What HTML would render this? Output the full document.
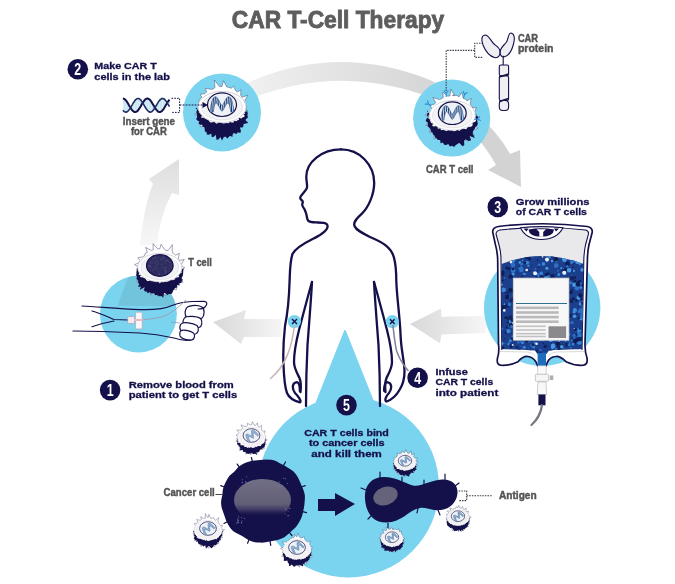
<!DOCTYPE html>
<html><head><meta charset="utf-8"><style>
html,body{margin:0;padding:0;background:#fff;}
svg{display:block;font-family:"Liberation Sans",sans-serif;}
</style></head><body>
<svg width="675" height="584" viewBox="0 0 675 584">
<rect width="675" height="584" fill="#fff"/>
<defs>
<linearGradient id="gTop" gradientUnits="userSpaceOnUse" x1="250" y1="0" x2="450" y2="0"><stop offset="0" stop-color="#f0f0f0"/><stop offset="1" stop-color="#d3d3d3"/></linearGradient>
<linearGradient id="gLeftUp" x1="0" y1="1" x2="0" y2="0"><stop offset="0" stop-color="#f7f7f7"/><stop offset="1" stop-color="#dedede"/></linearGradient>
<linearGradient id="gArrL" x1="0" y1="0" x2="1" y2="0"><stop offset="0" stop-color="#d8d8d8"/><stop offset="1" stop-color="#f6f6f6"/></linearGradient>
<radialGradient id="gNuc" cx="0.5" cy="0.4" r="0.6"><stop offset="0" stop-color="#77748a"/><stop offset="0.7" stop-color="#5e5b78"/><stop offset="1" stop-color="#3a3762"/></radialGradient>
</defs>
<path d="M238,87 L254,80 Q340,44 430,80 C455,92 495,125 510,154 L520,150 L521,187 L488,170 L496,165 C480,135 452,110 424,95 Q340,65.5 255,97 L240,104 Z" fill="url(#gTop)"/>
<path d="M140,245 Q144,205 153,184 L149,179 L179,159 L179,195 L172,193 Q160,215 157,245 Z" fill="url(#gLeftUp)"/>
<path d="M213,322 L246,310 L244,319 L282,319 L282,337 L244,337 L241,344 Z" fill="url(#gArrL)"/>
<path d="M410,324 L441,308.5 L441.5,316.7 L486,316 L486,333 L441.5,334.4 L440,343.3 Z" fill="url(#gArrL)"/>
<circle cx="222" cy="112.5" r="39" fill="#7bd4ef"/>
<circle cx="451.7" cy="118" r="38.6" fill="#7bd4ef"/>
<circle cx="138.4" cy="314" r="38.5" fill="#7bd4ef"/>
<clipPath id="handclip"><circle cx="138.4" cy="314" r="38.5"/></clipPath><path clip-path="url(#handclip)" d="M140,244 L175,244 L180,306 L118,306 C122,290 134,265 140,244 Z" fill="#ececec" style="mix-blend-mode:multiply"/>
<circle cx="542.2" cy="307.8" r="58.2" fill="#7bd4ef"/>
<path d="M345,331 L316,404 L374,404 Z" fill="#7bd4ef" stroke="#7bd4ef" stroke-width="2" stroke-linejoin="round"/>
<circle cx="348.5" cy="487" r="90.5" fill="#7bd4ef"/>
<path d="M498.6,226.5 Q542.9,221 587.2,226.5 Q592.5,227.5 592.3,232 L588.9,245 Q587.5,252 587.4,260 L585,344 Q584.8,352 587,358 Q588,364.5 583.5,365.2 Q575,366 566,361.7 Q560,356 555.7,356.5 Q550,357 547.5,362 L545.8,366.1 L537.8,366.1 L536,362 Q533,357 527.6,356.5 Q523,356 518,361.7 Q509,366 500.5,365.2 Q496.3,364.5 497.5,358 Q499.5,352 498.5,344 L497.7,260 Q497.5,252 495.2,243.6 L492.7,232 Q492.5,227.5 498.6,226.5 Z" fill="#fff" stroke="#14104a" stroke-width="1.7" stroke-linejoin="round"/>
<path d="M500,230 Q542.9,225 585.5,230 Q589,231 588.5,234 L585.5,245 Q584,252 583.8,260 L582,350 L501.8,350 L501,260 Q501,252 499,245 L496,234 Q496,231 500,230 Z" fill="#e9e9ec"/>
<path d="M501.8,350 L501,260 Q501,252 499,245 L496,234 Q496,231 500,230 Q542.9,225 585.5,230 Q589,231 588.5,234 L585.5,245 Q584,252 583.8,260 L582,350" fill="none" stroke="#14104a" stroke-width="1.1"/>
<path d="M501.5,264 Q541,248 583.5,264 L582,349 Q560,349.5 549,350.5 L546.5,354 L537.3,354 L535,350.5 Q524,349.5 501.8,349 Z" fill="#1b3f8c"/>
<path d="M500,351.5 L528,352 Q533,352.5 535.5,356 M548.5,356 Q551,352.5 556,352 L584,351.5" fill="none" stroke="#c9c9ce" stroke-width="0.7"/>
<clipPath id="liqclip"><path d="M501.5,264 Q541,248 583.5,264 L582,349 Q560,349.5 549,350.5 L546.5,354 L537.3,354 L535,350.5 Q524,349.5 501.8,349 Z"/></clipPath>
<g clip-path="url(#liqclip)"><circle cx="554.4" cy="254.6" r="1.2" fill="#3a86d6"/><circle cx="519" cy="328.6" r="2.3" fill="#0d1c52"/><circle cx="575.8" cy="261" r="1.5" fill="#2e6fc4"/><circle cx="502.5" cy="274.7" r="1.8" fill="#13245e"/><circle cx="502.3" cy="272.7" r="2.3" fill="#0d1c52"/><circle cx="546.3" cy="274.9" r="1.8" fill="#0f1f5a"/><circle cx="568.8" cy="252.7" r="0.9" fill="#0d1c52"/><circle cx="535.9" cy="280.9" r="0.9" fill="#2a74cc"/><circle cx="528.6" cy="261.6" r="0.6" fill="#0f1f5a"/><circle cx="572" cy="314.8" r="0.6" fill="#0d1c52"/><circle cx="539.1" cy="265" r="1.5" fill="#2e6fc4"/><circle cx="546.9" cy="338.3" r="1.8" fill="#2a74cc"/><circle cx="530.7" cy="272" r="0.6" fill="#2e6fc4"/><circle cx="556.2" cy="332.4" r="0.6" fill="#2a74cc"/><circle cx="519.8" cy="262.5" r="1.2" fill="#4b9be0"/><circle cx="554" cy="289.9" r="1.2" fill="#0f1f5a"/><circle cx="517.8" cy="279.8" r="2.3" fill="#0d1c52"/><circle cx="506.1" cy="318" r="1.8" fill="#0d1c52"/><circle cx="520.8" cy="300.1" r="1.2" fill="#0d1c52"/><circle cx="558.5" cy="274.8" r="1.2" fill="#2a74cc"/><circle cx="565.3" cy="257.8" r="0.6" fill="#2a74cc"/><circle cx="526.8" cy="279.8" r="0.9" fill="#13245e"/><circle cx="574.5" cy="284.7" r="2.3" fill="#4b9be0"/><circle cx="533.6" cy="347.1" r="1.5" fill="#3a86d6"/><circle cx="522.5" cy="277.6" r="1.8" fill="#13245e"/><circle cx="522.3" cy="312.8" r="1.8" fill="#4b9be0"/><circle cx="530.8" cy="355.7" r="0.9" fill="#13245e"/><circle cx="541.9" cy="330.6" r="0.6" fill="#3a86d6"/><circle cx="553.3" cy="334.4" r="1.5" fill="#13245e"/><circle cx="505.4" cy="291.7" r="1.5" fill="#13245e"/><circle cx="521.4" cy="309.5" r="0.6" fill="#0d1c52"/><circle cx="561.3" cy="322.9" r="1.8" fill="#2a74cc"/><circle cx="522.7" cy="318.7" r="0.6" fill="#0f1f5a"/><circle cx="537" cy="299.2" r="2.3" fill="#0d1c52"/><circle cx="522.4" cy="304.1" r="0.9" fill="#13245e"/><circle cx="577.6" cy="342.5" r="1.2" fill="#2a74cc"/><circle cx="554.3" cy="315.3" r="0.9" fill="#0f1f5a"/><circle cx="564.8" cy="308.1" r="1.8" fill="#2e6fc4"/><circle cx="550.9" cy="302.8" r="0.6" fill="#0f1f5a"/><circle cx="574.7" cy="338.5" r="1.2" fill="#3a86d6"/><circle cx="504.9" cy="343.3" r="0.6" fill="#2e6fc4"/><circle cx="562.2" cy="336.9" r="1.8" fill="#2a74cc"/><circle cx="510.7" cy="320.6" r="1.8" fill="#3a86d6"/><circle cx="522.5" cy="342.7" r="1.5" fill="#3a86d6"/><circle cx="579" cy="330.5" r="2.3" fill="#3a86d6"/><circle cx="560.6" cy="293.5" r="2.3" fill="#0d1c52"/><circle cx="531.7" cy="345.6" r="1.5" fill="#2e6fc4"/><circle cx="521.1" cy="258.7" r="0.6" fill="#13245e"/><circle cx="547.1" cy="313.2" r="0.6" fill="#2e6fc4"/><circle cx="560.2" cy="258.1" r="0.6" fill="#2e6fc4"/><circle cx="573.1" cy="259.4" r="0.9" fill="#0f1f5a"/><circle cx="556.9" cy="274.3" r="0.9" fill="#0d1c52"/><circle cx="579.5" cy="311.4" r="1.5" fill="#3a86d6"/><circle cx="566.7" cy="336" r="0.9" fill="#2e6fc4"/><circle cx="508.2" cy="296.8" r="1.5" fill="#4b9be0"/><circle cx="539.7" cy="327.8" r="2.3" fill="#0d1c52"/><circle cx="583.7" cy="262.2" r="1.5" fill="#0d1c52"/><circle cx="528.8" cy="341.6" r="0.9" fill="#3a86d6"/><circle cx="516.2" cy="298.7" r="1.5" fill="#3a86d6"/><circle cx="523.7" cy="278" r="0.6" fill="#4b9be0"/><circle cx="568.7" cy="341" r="0.6" fill="#2e6fc4"/><circle cx="555.4" cy="308.2" r="0.6" fill="#2e6fc4"/><circle cx="578.7" cy="340.3" r="0.9" fill="#4b9be0"/><circle cx="541.3" cy="274.2" r="1.5" fill="#2e6fc4"/><circle cx="514" cy="252.2" r="1.5" fill="#0f1f5a"/><circle cx="578.8" cy="333.7" r="1.2" fill="#4b9be0"/><circle cx="559.2" cy="328" r="1.8" fill="#0d1c52"/><circle cx="561.1" cy="268.1" r="1.2" fill="#3a86d6"/><circle cx="582.3" cy="312.2" r="1.8" fill="#2e6fc4"/><circle cx="563.6" cy="257.9" r="1.8" fill="#4b9be0"/><circle cx="542.7" cy="340.7" r="0.9" fill="#2e6fc4"/><circle cx="581.7" cy="260.3" r="0.9" fill="#2e6fc4"/><circle cx="550.6" cy="322.2" r="0.9" fill="#4b9be0"/><circle cx="510.2" cy="344.6" r="0.9" fill="#13245e"/><circle cx="550.5" cy="316.4" r="1.5" fill="#0d1c52"/><circle cx="549.6" cy="306.4" r="1.2" fill="#3a86d6"/><circle cx="556.9" cy="284.7" r="1.2" fill="#4b9be0"/><circle cx="511.1" cy="319.1" r="1.5" fill="#0f1f5a"/><circle cx="579" cy="349.3" r="0.6" fill="#4b9be0"/><circle cx="552.8" cy="310.6" r="0.6" fill="#2e6fc4"/><circle cx="545.7" cy="304.6" r="0.9" fill="#0f1f5a"/><circle cx="574.9" cy="343.4" r="1.2" fill="#0f1f5a"/><circle cx="513.4" cy="338.7" r="2.3" fill="#0f1f5a"/><circle cx="552" cy="354.7" r="2.3" fill="#13245e"/><circle cx="500.7" cy="337" r="1.2" fill="#0d1c52"/><circle cx="508.8" cy="343.3" r="1.2" fill="#2e6fc4"/><circle cx="575.6" cy="329.2" r="0.9" fill="#0f1f5a"/><circle cx="523.9" cy="273.9" r="1.2" fill="#3a86d6"/><circle cx="558.4" cy="340.7" r="1.8" fill="#4b9be0"/><circle cx="521.3" cy="346.4" r="0.6" fill="#2e6fc4"/><circle cx="553.9" cy="338.3" r="0.6" fill="#2e6fc4"/><circle cx="528.4" cy="265.6" r="1.2" fill="#3a86d6"/><circle cx="563" cy="309.4" r="1.5" fill="#13245e"/><circle cx="500.8" cy="259.8" r="2.3" fill="#3a86d6"/><circle cx="546.4" cy="338.8" r="1.8" fill="#13245e"/><circle cx="512.6" cy="265.3" r="1.2" fill="#0f1f5a"/><circle cx="576.4" cy="334.8" r="0.6" fill="#0f1f5a"/><circle cx="517.9" cy="278" r="0.6" fill="#0f1f5a"/><circle cx="566.3" cy="344" r="1.5" fill="#13245e"/><circle cx="563.7" cy="348.3" r="0.9" fill="#2a74cc"/><circle cx="513.8" cy="335.2" r="0.9" fill="#4b9be0"/><circle cx="502.1" cy="328.6" r="1.2" fill="#2a74cc"/><circle cx="579.1" cy="335.4" r="2.3" fill="#2a74cc"/><circle cx="521.1" cy="268.6" r="2.3" fill="#2e6fc4"/><circle cx="532.5" cy="256" r="1.5" fill="#3a86d6"/><circle cx="517" cy="347.5" r="1.2" fill="#0f1f5a"/><circle cx="569.7" cy="342.6" r="0.9" fill="#2e6fc4"/><circle cx="556.1" cy="293.4" r="1.2" fill="#2a74cc"/><circle cx="505.9" cy="332.4" r="1.2" fill="#0d1c52"/><circle cx="543.3" cy="322.7" r="1.8" fill="#0f1f5a"/><circle cx="579.8" cy="264" r="1.2" fill="#3a86d6"/><circle cx="549.4" cy="354.3" r="0.6" fill="#2e6fc4"/><circle cx="550.7" cy="288" r="1.2" fill="#4b9be0"/><circle cx="551.5" cy="305.2" r="1.5" fill="#13245e"/><circle cx="516.2" cy="256.6" r="1.5" fill="#2e6fc4"/><circle cx="544.2" cy="335.9" r="2.3" fill="#0d1c52"/><circle cx="579.9" cy="328.7" r="0.9" fill="#0f1f5a"/><circle cx="536.7" cy="350.7" r="1.2" fill="#13245e"/><circle cx="526.7" cy="340.2" r="2.3" fill="#0f1f5a"/><circle cx="543.1" cy="321.4" r="1.2" fill="#4b9be0"/><circle cx="559.3" cy="309.7" r="0.9" fill="#4b9be0"/><circle cx="556.5" cy="291.4" r="2.3" fill="#3a86d6"/><circle cx="552.3" cy="283.3" r="1.8" fill="#2a74cc"/><circle cx="500" cy="281.8" r="1.5" fill="#2a74cc"/><circle cx="549.3" cy="320.1" r="1.5" fill="#4b9be0"/><circle cx="537.6" cy="274.2" r="1.5" fill="#2a74cc"/><circle cx="576.6" cy="334.8" r="0.9" fill="#0d1c52"/><circle cx="507.2" cy="305.6" r="2.3" fill="#13245e"/><circle cx="528.5" cy="337.1" r="0.9" fill="#0d1c52"/><circle cx="526.4" cy="335.9" r="0.9" fill="#2e6fc4"/><circle cx="503.9" cy="354.3" r="1.8" fill="#2a74cc"/><circle cx="565.3" cy="299.4" r="2.3" fill="#13245e"/><circle cx="516.5" cy="324.4" r="1.5" fill="#4b9be0"/><circle cx="520.7" cy="320.2" r="0.6" fill="#2a74cc"/><circle cx="573.1" cy="344.1" r="1.5" fill="#3a86d6"/><circle cx="515" cy="351.6" r="1.8" fill="#4b9be0"/><circle cx="504.3" cy="277.9" r="0.6" fill="#4b9be0"/><circle cx="511.3" cy="300.3" r="1.8" fill="#13245e"/><circle cx="550.6" cy="350.8" r="1.5" fill="#13245e"/><circle cx="569.3" cy="344.8" r="1.5" fill="#2a74cc"/><circle cx="577.1" cy="298.4" r="0.9" fill="#0d1c52"/><circle cx="573.2" cy="298.8" r="0.9" fill="#2a74cc"/><circle cx="554.2" cy="331.6" r="1.8" fill="#4b9be0"/><circle cx="553.3" cy="280.6" r="0.6" fill="#0d1c52"/><circle cx="524.3" cy="280.3" r="1.2" fill="#13245e"/><circle cx="506.8" cy="267.7" r="1.5" fill="#0d1c52"/><circle cx="513" cy="274.3" r="1.5" fill="#4b9be0"/><circle cx="528.1" cy="300.5" r="0.6" fill="#3a86d6"/><circle cx="570.8" cy="292.5" r="1.8" fill="#0d1c52"/><circle cx="501.7" cy="343.6" r="1.8" fill="#4b9be0"/><circle cx="540.5" cy="350" r="1.2" fill="#2a74cc"/><circle cx="533.1" cy="344.7" r="1.5" fill="#13245e"/><circle cx="563.5" cy="308.8" r="1.8" fill="#3a86d6"/><circle cx="541.5" cy="280.4" r="1.5" fill="#2e6fc4"/><circle cx="533.1" cy="321.6" r="1.5" fill="#0d1c52"/><circle cx="514" cy="300.6" r="0.9" fill="#13245e"/><circle cx="545.4" cy="346.3" r="1.8" fill="#13245e"/><circle cx="556.4" cy="260.7" r="1.5" fill="#3a86d6"/><circle cx="573.7" cy="270.9" r="1.2" fill="#4b9be0"/><circle cx="527.8" cy="299.3" r="1.2" fill="#2a74cc"/><circle cx="574.8" cy="280.9" r="1.5" fill="#0f1f5a"/><circle cx="571" cy="300.9" r="2.3" fill="#13245e"/><circle cx="504.4" cy="351" r="0.9" fill="#0d1c52"/><circle cx="505.8" cy="351.6" r="0.6" fill="#2a74cc"/><circle cx="502.6" cy="277.7" r="0.6" fill="#13245e"/><circle cx="513" cy="265.1" r="2.3" fill="#2e6fc4"/><circle cx="547.9" cy="274.7" r="2.3" fill="#0f1f5a"/><circle cx="565.2" cy="269.5" r="1.8" fill="#0d1c52"/><circle cx="561.1" cy="332.9" r="0.9" fill="#0f1f5a"/><circle cx="509.2" cy="254.7" r="1.2" fill="#13245e"/><circle cx="557.6" cy="351.6" r="1.5" fill="#0d1c52"/><circle cx="516.9" cy="313.6" r="2.3" fill="#3a86d6"/><circle cx="508.7" cy="332.3" r="2.3" fill="#13245e"/><circle cx="568.5" cy="334.8" r="1.8" fill="#2a74cc"/><circle cx="503.5" cy="307.4" r="2.3" fill="#0f1f5a"/><circle cx="505.9" cy="319.3" r="0.6" fill="#2a74cc"/><circle cx="535.7" cy="303" r="1.5" fill="#0f1f5a"/><circle cx="554" cy="338.2" r="2.3" fill="#3a86d6"/><circle cx="537" cy="328.3" r="2.3" fill="#0f1f5a"/><circle cx="552.4" cy="347.6" r="1.5" fill="#4b9be0"/><circle cx="537" cy="328" r="1.2" fill="#0f1f5a"/><circle cx="572.4" cy="338.4" r="0.6" fill="#0f1f5a"/><circle cx="574.9" cy="277.4" r="1.5" fill="#13245e"/><circle cx="551.9" cy="291.4" r="0.6" fill="#4b9be0"/><circle cx="572.3" cy="270.9" r="0.9" fill="#0f1f5a"/><circle cx="567.8" cy="287.4" r="1.8" fill="#0d1c52"/><circle cx="574.8" cy="309.8" r="1.8" fill="#3a86d6"/><circle cx="507.3" cy="326.9" r="1.5" fill="#13245e"/><circle cx="564.4" cy="323.8" r="2.3" fill="#0d1c52"/><circle cx="541.7" cy="334.5" r="0.6" fill="#0f1f5a"/><circle cx="518.8" cy="323.9" r="1.2" fill="#0d1c52"/><circle cx="549.4" cy="301.2" r="1.8" fill="#0f1f5a"/><circle cx="536.2" cy="329.6" r="1.2" fill="#0f1f5a"/><circle cx="559.7" cy="280.2" r="1.2" fill="#3a86d6"/><circle cx="510.3" cy="272" r="0.6" fill="#0d1c52"/><circle cx="545.5" cy="331.3" r="0.9" fill="#3a86d6"/><circle cx="518.4" cy="302.4" r="2.3" fill="#13245e"/><circle cx="583" cy="306.6" r="1.2" fill="#2e6fc4"/><circle cx="570.8" cy="282.8" r="1.2" fill="#3a86d6"/><circle cx="525.7" cy="325.6" r="0.9" fill="#0f1f5a"/><circle cx="503.9" cy="257.7" r="1.2" fill="#0d1c52"/><circle cx="580.2" cy="318.3" r="1.5" fill="#2e6fc4"/><circle cx="574.2" cy="311.7" r="1.5" fill="#4b9be0"/><circle cx="537.4" cy="271.2" r="0.6" fill="#0f1f5a"/><circle cx="580" cy="301.7" r="0.6" fill="#4b9be0"/><circle cx="541.8" cy="312" r="2.3" fill="#2e6fc4"/><circle cx="512.9" cy="336.4" r="1.2" fill="#2e6fc4"/><circle cx="584.5" cy="264.3" r="1.5" fill="#13245e"/><circle cx="550.7" cy="316.3" r="1.8" fill="#4b9be0"/><circle cx="538.3" cy="298" r="1.8" fill="#4b9be0"/><circle cx="526" cy="316.6" r="1.8" fill="#0d1c52"/><circle cx="508.4" cy="331.3" r="2.3" fill="#3a86d6"/><circle cx="522.5" cy="260.4" r="0.9" fill="#3a86d6"/><circle cx="546.9" cy="268.3" r="1.5" fill="#4b9be0"/><circle cx="558.6" cy="300.9" r="0.6" fill="#3a86d6"/><circle cx="524.5" cy="281.4" r="1.5" fill="#2e6fc4"/><circle cx="558.4" cy="348.1" r="2.3" fill="#13245e"/><circle cx="556.2" cy="349.1" r="1.5" fill="#2e6fc4"/><circle cx="546.3" cy="319.4" r="1.2" fill="#2a74cc"/><circle cx="512.1" cy="258.2" r="1.2" fill="#13245e"/><circle cx="563.7" cy="311.2" r="1.2" fill="#4b9be0"/><circle cx="510.6" cy="323.6" r="2.3" fill="#4b9be0"/><circle cx="580.1" cy="304" r="1.5" fill="#4b9be0"/><circle cx="506.8" cy="256.1" r="1.5" fill="#0d1c52"/><circle cx="527.4" cy="278" r="0.6" fill="#3a86d6"/><circle cx="581.8" cy="338.9" r="1.8" fill="#13245e"/><circle cx="580.8" cy="356" r="2.3" fill="#2a74cc"/><circle cx="522.9" cy="256.2" r="0.9" fill="#4b9be0"/><circle cx="544.1" cy="298" r="1.2" fill="#3a86d6"/><circle cx="584.7" cy="297.3" r="1.5" fill="#2e6fc4"/><circle cx="540" cy="294.5" r="1.2" fill="#0d1c52"/><circle cx="508.9" cy="268.7" r="1.5" fill="#0d1c52"/><circle cx="542.1" cy="320.9" r="1.5" fill="#2a74cc"/><circle cx="564.6" cy="255.8" r="0.6" fill="#0f1f5a"/><circle cx="521.5" cy="264.1" r="1.5" fill="#2a74cc"/><circle cx="543.7" cy="354.8" r="2.3" fill="#2a74cc"/><circle cx="546.1" cy="295" r="0.9" fill="#13245e"/><circle cx="530.8" cy="330.7" r="2.3" fill="#4b9be0"/><circle cx="564.6" cy="273.2" r="1.8" fill="#3a86d6"/><circle cx="578.9" cy="297.6" r="2.3" fill="#4b9be0"/><circle cx="510.3" cy="353.2" r="1.8" fill="#2a74cc"/><circle cx="520.3" cy="268.5" r="1.8" fill="#2e6fc4"/><circle cx="546.9" cy="261.7" r="0.6" fill="#4b9be0"/><circle cx="580.5" cy="319.4" r="0.9" fill="#4b9be0"/><circle cx="579.3" cy="282.4" r="2.3" fill="#0f1f5a"/><circle cx="535.3" cy="302.2" r="1.5" fill="#3a86d6"/><circle cx="538.8" cy="267" r="0.9" fill="#13245e"/><circle cx="543.2" cy="343.4" r="0.6" fill="#0f1f5a"/><circle cx="565.7" cy="340.9" r="1.2" fill="#2a74cc"/><circle cx="543.2" cy="337.3" r="1.2" fill="#0d1c52"/><circle cx="525.4" cy="313" r="2.3" fill="#4b9be0"/><circle cx="573.5" cy="298.4" r="1.5" fill="#0f1f5a"/><circle cx="528.3" cy="331.3" r="1.5" fill="#4b9be0"/><circle cx="579.3" cy="342.4" r="2.3" fill="#3a86d6"/><circle cx="548.6" cy="276.3" r="1.5" fill="#2e6fc4"/><circle cx="527" cy="301.2" r="1.5" fill="#4b9be0"/><circle cx="584" cy="334.4" r="2.3" fill="#3a86d6"/><circle cx="542.1" cy="255.9" r="1.8" fill="#13245e"/><circle cx="528.2" cy="262.4" r="1.5" fill="#2e6fc4"/><circle cx="544.7" cy="299.5" r="2.3" fill="#3a86d6"/><circle cx="534.8" cy="320.1" r="0.9" fill="#2e6fc4"/><circle cx="539.9" cy="352.8" r="1.2" fill="#13245e"/><circle cx="558.9" cy="319.6" r="1.2" fill="#2a74cc"/><circle cx="557.3" cy="307.5" r="1.2" fill="#0d1c52"/><circle cx="561.1" cy="331" r="1.8" fill="#2e6fc4"/><circle cx="552.5" cy="276.4" r="2.3" fill="#0f1f5a"/><circle cx="584.8" cy="329.7" r="1.5" fill="#2e6fc4"/><circle cx="564.6" cy="325.2" r="0.6" fill="#4b9be0"/><circle cx="514.1" cy="283.1" r="0.6" fill="#2e6fc4"/><circle cx="527.6" cy="257.8" r="1.2" fill="#0f1f5a"/><circle cx="536.6" cy="277.4" r="1.5" fill="#13245e"/><circle cx="558" cy="270.7" r="0.9" fill="#2e6fc4"/><circle cx="551.8" cy="291.8" r="2.3" fill="#3a86d6"/><circle cx="542.3" cy="312.6" r="0.9" fill="#4b9be0"/><circle cx="554.2" cy="299.8" r="2.3" fill="#2e6fc4"/><circle cx="576.4" cy="300.4" r="1.2" fill="#0d1c52"/><circle cx="546.5" cy="259.7" r="1.2" fill="#13245e"/><circle cx="525.4" cy="352.1" r="2.3" fill="#0f1f5a"/><circle cx="538.8" cy="283.4" r="1.5" fill="#2a74cc"/><circle cx="541.1" cy="276.7" r="1.8" fill="#0f1f5a"/><circle cx="548.9" cy="355.2" r="1.2" fill="#2e6fc4"/><circle cx="583.1" cy="320.5" r="1.2" fill="#2e6fc4"/><circle cx="548.1" cy="323.3" r="2.3" fill="#2e6fc4"/><circle cx="577.4" cy="329.5" r="1.2" fill="#2a74cc"/><circle cx="567.9" cy="315.1" r="1.2" fill="#3a86d6"/><circle cx="554.1" cy="316.6" r="2.3" fill="#2a74cc"/><circle cx="561.3" cy="320.6" r="0.9" fill="#0d1c52"/><circle cx="508.3" cy="317.3" r="0.6" fill="#0f1f5a"/><circle cx="567" cy="255.5" r="1.2" fill="#0d1c52"/><circle cx="511.2" cy="346.6" r="1.2" fill="#0d1c52"/><circle cx="535.3" cy="272.9" r="1.8" fill="#0f1f5a"/><circle cx="545.1" cy="347" r="0.9" fill="#0f1f5a"/><circle cx="577.7" cy="350.2" r="1.2" fill="#0d1c52"/><circle cx="574" cy="335.6" r="1.5" fill="#2e6fc4"/><circle cx="512" cy="352.5" r="2.3" fill="#0d1c52"/><circle cx="557.3" cy="293.3" r="1.8" fill="#0f1f5a"/><circle cx="507.7" cy="293" r="1.2" fill="#13245e"/><circle cx="510.5" cy="290.3" r="2.3" fill="#0d1c52"/><circle cx="522.3" cy="291.6" r="2.3" fill="#0f1f5a"/><circle cx="509.2" cy="276.3" r="0.6" fill="#13245e"/><circle cx="575.2" cy="310.4" r="1.8" fill="#3a86d6"/><circle cx="555.1" cy="318.1" r="1.5" fill="#0d1c52"/><circle cx="525.7" cy="294.5" r="0.9" fill="#2e6fc4"/><circle cx="580.4" cy="283.7" r="1.5" fill="#2e6fc4"/><circle cx="508.3" cy="344.3" r="0.9" fill="#4b9be0"/><circle cx="538.6" cy="321.7" r="2.3" fill="#0d1c52"/><circle cx="580.4" cy="295.6" r="2.3" fill="#0d1c52"/><circle cx="513.1" cy="295.1" r="0.6" fill="#2a74cc"/><circle cx="541.6" cy="294.4" r="1.2" fill="#2e6fc4"/><circle cx="558.7" cy="274.6" r="1.5" fill="#3a86d6"/><circle cx="572.7" cy="262.3" r="2.3" fill="#0f1f5a"/><circle cx="546.3" cy="353.7" r="1.2" fill="#2e6fc4"/><circle cx="533.8" cy="271.7" r="0.6" fill="#2a74cc"/><circle cx="570.1" cy="261.5" r="0.9" fill="#0d1c52"/><circle cx="554.4" cy="353" r="0.6" fill="#2a74cc"/><circle cx="528.3" cy="354.8" r="1.8" fill="#3a86d6"/><circle cx="505.8" cy="331.6" r="0.9" fill="#13245e"/><circle cx="518.4" cy="342.4" r="1.2" fill="#2a74cc"/><circle cx="512.5" cy="345.7" r="0.6" fill="#0f1f5a"/><circle cx="573" cy="267" r="0.9" fill="#13245e"/><circle cx="521.3" cy="270.1" r="2.3" fill="#2a74cc"/><circle cx="502.2" cy="253.5" r="0.9" fill="#13245e"/><circle cx="527.5" cy="270.1" r="0.6" fill="#3a86d6"/><circle cx="563" cy="306.7" r="2.3" fill="#2e6fc4"/><circle cx="540.5" cy="332.9" r="1.8" fill="#13245e"/><circle cx="509.3" cy="304.4" r="1.8" fill="#2e6fc4"/><circle cx="561.8" cy="346.5" r="2.3" fill="#13245e"/><circle cx="525.6" cy="318.9" r="0.6" fill="#2e6fc4"/><circle cx="584.9" cy="340.1" r="1.5" fill="#0d1c52"/><circle cx="509.2" cy="326.1" r="1.5" fill="#2e6fc4"/><circle cx="576.4" cy="285.5" r="0.9" fill="#2e6fc4"/><circle cx="510.7" cy="316.9" r="1.8" fill="#13245e"/><circle cx="560.5" cy="291.6" r="1.8" fill="#13245e"/><circle cx="525.1" cy="304.6" r="1.5" fill="#2e6fc4"/><circle cx="567.4" cy="263.9" r="2.3" fill="#0d1c52"/><circle cx="574.6" cy="309.3" r="0.9" fill="#4b9be0"/><circle cx="538.4" cy="275.8" r="1.2" fill="#2a74cc"/><circle cx="538.5" cy="295.3" r="0.6" fill="#0f1f5a"/><circle cx="536.3" cy="321.2" r="1.2" fill="#3a86d6"/><circle cx="558.4" cy="301.3" r="0.6" fill="#2a74cc"/><circle cx="507.3" cy="296.9" r="2.3" fill="#0d1c52"/><circle cx="531.7" cy="265.5" r="0.6" fill="#13245e"/><circle cx="581.3" cy="310.4" r="2.3" fill="#2e6fc4"/><circle cx="534.9" cy="342.9" r="1.5" fill="#2a74cc"/><circle cx="577.8" cy="257.4" r="1.2" fill="#13245e"/><circle cx="526.6" cy="262.8" r="1.8" fill="#3a86d6"/><circle cx="513.2" cy="302.1" r="0.6" fill="#0f1f5a"/><circle cx="571.9" cy="290.2" r="1.2" fill="#13245e"/><circle cx="519.2" cy="296.6" r="1.8" fill="#2a74cc"/><circle cx="569.6" cy="315.8" r="2.3" fill="#13245e"/><circle cx="502.2" cy="348.6" r="2.3" fill="#0f1f5a"/><circle cx="502.5" cy="280.4" r="1.2" fill="#0f1f5a"/><circle cx="529.8" cy="270.9" r="0.9" fill="#13245e"/><circle cx="555.9" cy="259.2" r="2.3" fill="#0d1c52"/><circle cx="582.6" cy="261.5" r="1.8" fill="#3a86d6"/><circle cx="532" cy="299.2" r="0.9" fill="#0f1f5a"/><circle cx="526.5" cy="285.7" r="1.8" fill="#13245e"/><circle cx="507.2" cy="257.5" r="0.9" fill="#2a74cc"/><circle cx="552.5" cy="322.1" r="1.2" fill="#4b9be0"/><circle cx="556.3" cy="302.5" r="1.5" fill="#4b9be0"/><circle cx="523.2" cy="330.5" r="0.6" fill="#0f1f5a"/><circle cx="536.5" cy="281.5" r="2.3" fill="#13245e"/><circle cx="541.4" cy="321.4" r="0.6" fill="#3a86d6"/><circle cx="533.6" cy="314.3" r="0.6" fill="#3a86d6"/><circle cx="525.6" cy="274" r="0.9" fill="#2a74cc"/><circle cx="521.7" cy="286.1" r="0.6" fill="#4b9be0"/><circle cx="563.5" cy="270.3" r="1.5" fill="#13245e"/><circle cx="559.8" cy="304" r="2.3" fill="#2a74cc"/><circle cx="530.1" cy="293.3" r="2.3" fill="#2e6fc4"/><circle cx="537.1" cy="299.8" r="0.6" fill="#2a74cc"/><circle cx="526.6" cy="296.6" r="1.5" fill="#0d1c52"/><circle cx="554.4" cy="282.1" r="1.5" fill="#2e6fc4"/><circle cx="582.1" cy="269.9" r="1.8" fill="#4b9be0"/><circle cx="570.7" cy="347.7" r="0.6" fill="#4b9be0"/><circle cx="571.8" cy="277.3" r="1.8" fill="#4b9be0"/><circle cx="544.5" cy="293.2" r="1.2" fill="#0d1c52"/><circle cx="528.9" cy="286.6" r="0.9" fill="#2e6fc4"/><circle cx="543.4" cy="263.9" r="1.8" fill="#3a86d6"/><circle cx="577" cy="288.3" r="2.3" fill="#2a74cc"/><circle cx="554.9" cy="267.4" r="0.6" fill="#3a86d6"/><circle cx="521.8" cy="270" r="0.9" fill="#2a74cc"/><circle cx="564.5" cy="259.8" r="2.3" fill="#4b9be0"/><circle cx="539.4" cy="310.6" r="1.8" fill="#4b9be0"/><circle cx="557.9" cy="343.7" r="2.3" fill="#0d1c52"/><circle cx="583.9" cy="285.6" r="2.3" fill="#0f1f5a"/><circle cx="512.8" cy="259.1" r="1.5" fill="#0d1c52"/><circle cx="525.7" cy="280.6" r="0.6" fill="#0f1f5a"/><circle cx="543.1" cy="284.3" r="1.5" fill="#2e6fc4"/><circle cx="504.8" cy="338.5" r="0.6" fill="#0d1c52"/><circle cx="573.5" cy="341" r="1.8" fill="#13245e"/><circle cx="543.1" cy="300.1" r="1.8" fill="#2a74cc"/><circle cx="562.8" cy="256.3" r="1.8" fill="#0d1c52"/><circle cx="516" cy="314.9" r="1.8" fill="#3a86d6"/><circle cx="581.4" cy="298.9" r="1.2" fill="#0d1c52"/><circle cx="507.2" cy="319.2" r="0.6" fill="#3a86d6"/><circle cx="560.1" cy="355.1" r="1.8" fill="#13245e"/><circle cx="551.8" cy="289.8" r="1.2" fill="#4b9be0"/><circle cx="534.7" cy="287.2" r="1.8" fill="#2e6fc4"/><circle cx="567.1" cy="319.3" r="0.6" fill="#0f1f5a"/><circle cx="508" cy="322.6" r="1.2" fill="#0f1f5a"/><circle cx="561.5" cy="320.3" r="1.8" fill="#2a74cc"/><circle cx="512.8" cy="260.5" r="2.3" fill="#3a86d6"/><circle cx="577.9" cy="284.3" r="2.3" fill="#0d1c52"/><circle cx="556.3" cy="265.4" r="2.3" fill="#2e6fc4"/><circle cx="526.3" cy="291.2" r="1.2" fill="#2a74cc"/><circle cx="510.9" cy="325.1" r="2.3" fill="#0d1c52"/><circle cx="577.6" cy="261.7" r="2.3" fill="#4b9be0"/><circle cx="543.2" cy="253.9" r="1.2" fill="#3a86d6"/><circle cx="580.8" cy="287.5" r="1.5" fill="#3a86d6"/><circle cx="519.3" cy="266.3" r="0.6" fill="#0f1f5a"/><circle cx="571.8" cy="262.5" r="1.8" fill="#2a74cc"/><circle cx="562.8" cy="306.8" r="2.3" fill="#0f1f5a"/><circle cx="574.5" cy="316.3" r="1.8" fill="#4b9be0"/><circle cx="513.1" cy="270.8" r="2.3" fill="#2a74cc"/><circle cx="553.1" cy="345.9" r="2.3" fill="#4b9be0"/><circle cx="503.7" cy="289.9" r="2.3" fill="#3a86d6"/><circle cx="582.4" cy="315.5" r="2.3" fill="#2a74cc"/><circle cx="538.2" cy="307.5" r="1.2" fill="#2a74cc"/><circle cx="566.7" cy="346" r="0.9" fill="#0f1f5a"/><circle cx="557.7" cy="311.3" r="1.5" fill="#4b9be0"/><circle cx="565.4" cy="332.9" r="1.8" fill="#13245e"/><circle cx="535.6" cy="268.9" r="0.9" fill="#2a74cc"/><circle cx="551.4" cy="342.8" r="0.6" fill="#0d1c52"/><circle cx="540.9" cy="290.6" r="0.6" fill="#0d1c52"/><circle cx="571.9" cy="340.5" r="1.2" fill="#2e6fc4"/><circle cx="564.9" cy="280.4" r="1.8" fill="#3a86d6"/><circle cx="570.6" cy="261.5" r="0.9" fill="#2a74cc"/><circle cx="538.3" cy="288.4" r="0.6" fill="#4b9be0"/><circle cx="504.5" cy="304.2" r="0.9" fill="#4b9be0"/><circle cx="584.5" cy="291" r="0.6" fill="#0f1f5a"/><circle cx="579.1" cy="339.3" r="2.3" fill="#0f1f5a"/><circle cx="567.3" cy="266.3" r="1.2" fill="#2a74cc"/><circle cx="540.2" cy="338.4" r="2.3" fill="#4b9be0"/><circle cx="538.1" cy="252.5" r="0.6" fill="#2e6fc4"/><circle cx="521.8" cy="338.8" r="1.8" fill="#0d1c52"/><circle cx="551.8" cy="296" r="1.2" fill="#3a86d6"/><circle cx="525.6" cy="257" r="1.5" fill="#0d1c52"/><circle cx="567.5" cy="299.5" r="0.6" fill="#2a74cc"/><circle cx="576.9" cy="314.1" r="0.6" fill="#0d1c52"/><circle cx="543.8" cy="277.2" r="0.9" fill="#0f1f5a"/><circle cx="536.5" cy="315.9" r="0.9" fill="#13245e"/><circle cx="535.4" cy="321.1" r="0.6" fill="#13245e"/><circle cx="582.8" cy="259" r="1.8" fill="#13245e"/><circle cx="543.1" cy="354.8" r="1.8" fill="#2e6fc4"/><circle cx="533.2" cy="300.9" r="2.3" fill="#4b9be0"/><circle cx="583.4" cy="278.4" r="0.6" fill="#0f1f5a"/><circle cx="567" cy="287.9" r="2.3" fill="#0d1c52"/><circle cx="553.4" cy="332.2" r="2.3" fill="#2a74cc"/><circle cx="528.3" cy="256.6" r="1.8" fill="#0f1f5a"/><circle cx="569.1" cy="270.2" r="2.3" fill="#4b9be0"/><circle cx="583.4" cy="301.8" r="0.9" fill="#2a74cc"/><circle cx="511.5" cy="326.5" r="1.5" fill="#2e6fc4"/><circle cx="524.9" cy="256.6" r="0.9" fill="#2e6fc4"/><circle cx="526.8" cy="284.2" r="1.5" fill="#2a74cc"/><circle cx="546.2" cy="278.3" r="2.3" fill="#3a86d6"/><circle cx="524.3" cy="341.7" r="0.6" fill="#2a74cc"/><circle cx="555.7" cy="280.4" r="1.2" fill="#4b9be0"/><circle cx="575.6" cy="329.3" r="1.5" fill="#0f1f5a"/><circle cx="582.8" cy="303.6" r="1.5" fill="#0f1f5a"/><circle cx="578.6" cy="306" r="0.6" fill="#0d1c52"/><circle cx="536.1" cy="296.8" r="0.9" fill="#13245e"/><circle cx="525" cy="262.7" r="1.2" fill="#0d1c52"/><circle cx="525.1" cy="298.4" r="2.3" fill="#4b9be0"/><circle cx="514.2" cy="298.2" r="1.5" fill="#2e6fc4"/><circle cx="561.8" cy="346.8" r="1.8" fill="#4b9be0"/><circle cx="523.3" cy="353.9" r="0.6" fill="#2e6fc4"/><circle cx="557.1" cy="294.2" r="1.8" fill="#2a74cc"/><circle cx="563.7" cy="268.6" r="0.6" fill="#3a86d6"/><circle cx="572.1" cy="322.5" r="1.5" fill="#2e6fc4"/><circle cx="510.7" cy="276.5" r="2.3" fill="#0f1f5a"/><circle cx="530.8" cy="350.7" r="0.6" fill="#13245e"/><circle cx="513" cy="298.8" r="1.2" fill="#0f1f5a"/><circle cx="537.7" cy="260" r="0.9" fill="#13245e"/><circle cx="531.2" cy="284.7" r="1.2" fill="#3a86d6"/><circle cx="581.6" cy="254.7" r="0.9" fill="#4b9be0"/><circle cx="544" cy="347" r="0.6" fill="#0f1f5a"/><circle cx="565.9" cy="325.2" r="0.9" fill="#13245e"/><circle cx="524.3" cy="347.3" r="1.5" fill="#3a86d6"/><circle cx="510.4" cy="340.7" r="1.5" fill="#3a86d6"/><circle cx="576.4" cy="298.3" r="0.6" fill="#2a74cc"/><circle cx="558" cy="339.9" r="1.2" fill="#0d1c52"/><circle cx="529.5" cy="258.8" r="1.8" fill="#0f1f5a"/><circle cx="575.8" cy="340.5" r="2.3" fill="#0d1c52"/><circle cx="578.8" cy="318.3" r="1.2" fill="#13245e"/><circle cx="519.1" cy="354.5" r="0.9" fill="#3a86d6"/><circle cx="567.2" cy="254.7" r="1.8" fill="#13245e"/><circle cx="531.4" cy="335.6" r="1.8" fill="#3a86d6"/><circle cx="552" cy="261" r="1.2" fill="#4b9be0"/><circle cx="585" cy="326.8" r="1.8" fill="#4b9be0"/><circle cx="565.4" cy="337.6" r="0.6" fill="#3a86d6"/><circle cx="582.7" cy="318.8" r="1.5" fill="#4b9be0"/><circle cx="557.8" cy="287.8" r="1.8" fill="#0d1c52"/><circle cx="550" cy="331.8" r="0.9" fill="#4b9be0"/><circle cx="542.7" cy="342.3" r="0.6" fill="#13245e"/><circle cx="513" cy="269.1" r="1.2" fill="#0d1c52"/><circle cx="519.2" cy="350.5" r="1.8" fill="#0f1f5a"/><circle cx="571.9" cy="278.1" r="2.3" fill="#13245e"/><circle cx="523.3" cy="317" r="1.8" fill="#13245e"/><circle cx="507.9" cy="318.7" r="1.8" fill="#13245e"/><circle cx="513.1" cy="320.5" r="2.3" fill="#13245e"/><circle cx="528.7" cy="348.1" r="0.6" fill="#2a74cc"/><circle cx="573.4" cy="260.4" r="2.3" fill="#2a74cc"/><circle cx="549" cy="319.7" r="1.8" fill="#4b9be0"/><circle cx="552.5" cy="255.1" r="2.3" fill="#13245e"/><circle cx="524.6" cy="351.5" r="1.5" fill="#3a86d6"/><circle cx="568.4" cy="323.2" r="1.2" fill="#4b9be0"/><circle cx="506.2" cy="258.2" r="1.5" fill="#4b9be0"/><circle cx="541.2" cy="273.2" r="1.8" fill="#3a86d6"/><circle cx="526.6" cy="326.7" r="2.3" fill="#2a74cc"/><circle cx="529.4" cy="293.5" r="1.2" fill="#13245e"/><circle cx="547.7" cy="285.2" r="1.5" fill="#2e6fc4"/><circle cx="522.7" cy="277.8" r="0.6" fill="#2e6fc4"/><circle cx="524.7" cy="292" r="1.8" fill="#4b9be0"/><circle cx="521.1" cy="342" r="0.9" fill="#2a74cc"/><circle cx="527.8" cy="312.1" r="1.2" fill="#3a86d6"/><circle cx="564.9" cy="303.8" r="1.8" fill="#4b9be0"/><circle cx="542.4" cy="284.1" r="0.6" fill="#2e6fc4"/><circle cx="580.3" cy="304.6" r="0.9" fill="#3a86d6"/><circle cx="549.6" cy="257.1" r="1.2" fill="#4b9be0"/><circle cx="550.8" cy="339.7" r="2.3" fill="#4b9be0"/><circle cx="524.3" cy="252.9" r="0.6" fill="#e8f0fa"/><circle cx="536.6" cy="343.8" r="1.3" fill="#e8f0fa"/><circle cx="564.9" cy="290.1" r="2.0" fill="#e8f0fa"/><circle cx="504.3" cy="310.4" r="1.3" fill="#e8f0fa"/><circle cx="547" cy="259.6" r="2.0" fill="#e8f0fa"/><circle cx="565" cy="281.1" r="0.6" fill="#e8f0fa"/><circle cx="510.9" cy="262.1" r="1.3" fill="#e8f0fa"/><circle cx="567.6" cy="287.3" r="1.3" fill="#e8f0fa"/><circle cx="564.2" cy="272.7" r="2.0" fill="#e8f0fa"/><circle cx="542.5" cy="256.7" r="0.9" fill="#e8f0fa"/><circle cx="560.7" cy="335.6" r="2.0" fill="#e8f0fa"/><circle cx="512.7" cy="344.9" r="0.9" fill="#e8f0fa"/><circle cx="527.9" cy="315.8" r="0.9" fill="#e8f0fa"/><circle cx="533.4" cy="316.1" r="1.3" fill="#e8f0fa"/><circle cx="550.5" cy="304.8" r="2.0" fill="#e8f0fa"/><circle cx="560.2" cy="283.2" r="0.6" fill="#e8f0fa"/><circle cx="531.3" cy="322.1" r="2.0" fill="#e8f0fa"/><circle cx="549.6" cy="334.9" r="0.6" fill="#e8f0fa"/><circle cx="550.7" cy="279.6" r="0.9" fill="#e8f0fa"/><circle cx="561.3" cy="312.7" r="0.9" fill="#e8f0fa"/><circle cx="544.6" cy="327" r="2.0" fill="#e8f0fa"/><circle cx="512.6" cy="322.8" r="0.6" fill="#e8f0fa"/><circle cx="548.7" cy="324.9" r="0.9" fill="#e8f0fa"/><circle cx="501.6" cy="284.6" r="0.9" fill="#e8f0fa"/><circle cx="535.1" cy="273.2" r="2.0" fill="#e8f0fa"/><circle cx="574.2" cy="328.5" r="0.6" fill="#e8f0fa"/><circle cx="560" cy="305.9" r="1.3" fill="#e8f0fa"/><circle cx="584.8" cy="301.8" r="2.0" fill="#e8f0fa"/><circle cx="526.7" cy="270" r="1.3" fill="#e8f0fa"/><circle cx="546.4" cy="322.3" r="1.3" fill="#e8f0fa"/></g>
<path d="M520.5,227.8 Q541.2,225.5 563,227.8 Q557,239.5 541.2,239.5 Q526,239.5 520.5,227.8 Z" fill="#fff" stroke="#14104a" stroke-width="1.1"/>
<path d="M528.5,229.6 Q541.2,226.8 554,229.6 Q553.5,236.6 541.2,236.8 Q529,236.6 528.5,229.6 Z" fill="#14104a"/>
<path d="M536.5,229.2 L546,229.2 L543.2,232 L543.2,236.8 L539.3,236.8 L539.3,232 Z" fill="#fff"/>
<path d="M523.5,228.5 L528.5,228.5 L526.5,231.5 Z M559,228.5 L554,228.5 L556,231.5 Z" fill="#14104a"/>
<rect x="513.3" y="278.1" width="55.6" height="62.1" fill="#f7f7f7" stroke="#d8d8d8" stroke-width="0.8"/>
<rect x="516" y="303" width="51" height="1" fill="#2f6f8f"/>
<rect x="516" y="306.5" width="42.7" height="2.6" fill="#b9b9bb"/>
<rect x="516" y="311.2" width="42.7" height="2.6" fill="#b9b9bb"/>
<rect x="516" y="315.8" width="42.7" height="2.6" fill="#b9b9bb"/>
<rect x="516" y="320.4" width="42.7" height="2.6" fill="#b9b9bb"/>
<rect x="516" y="325.5" width="29.7" height="1.6" fill="#c2c2c4"/>
<rect x="516" y="329.2" width="29.7" height="1.6" fill="#c2c2c4"/>
<rect x="516" y="332.9" width="29.7" height="1.6" fill="#c2c2c4"/>
<rect x="516" y="335.7" width="29.7" height="1.6" fill="#c2c2c4"/>
<rect x="548.5" y="326.3" width="17.6" height="11.7" fill="#8a8a8c"/>
<rect x="537.6" y="353" width="8.4" height="13" fill="#1f6dbf"/>
<rect x="537.8" y="365.8" width="8.3" height="9" fill="#fafafa" stroke="#b5b5b8" stroke-width="0.6"/>
<rect x="535.4" y="374.2" width="13.1" height="7.1" rx="1" fill="#f5f5f5" stroke="#a8a8ac" stroke-width="0.6"/>
<rect x="549.7" y="375.4" width="3.6" height="4.7" fill="#b0b0b4"/>
<path d="M538,382 L546,382 L546.7,394.5 L537.2,394.5 Z" fill="#f8f8f8" stroke="#b0b0b4" stroke-width="0.6"/>
<rect x="538.4" y="394.5" width="7.1" height="10.8" fill="#14104a"/>
<path d="M542,405 C541,413 537,420 531.5,425" fill="none" stroke="#76767e" stroke-width="2.2" stroke-linecap="round"/>
<g fill="none" stroke="#14104a" stroke-width="2.3" stroke-linecap="round" stroke-linejoin="round">
<path d="M341,149.4 C322,149.4 306,162 306.3,177.2 C306.3,181 307.5,185 307,187.5 C306.5,190 303,193 301,195.8 C299.8,197.5 300,199 301.5,200 C303,201 303,202.5 302.3,204 C301.8,205.5 303,207 304,208.4 C305.2,210 305,211 305.8,212.6 C307,215 306.5,218 308,220.5 C309.5,222.5 313,222.3 318,222.5 L323.8,222.8 C327,223.5 328,225 327.4,227.5 C326.5,231 322,233.5 319.6,235.3 C314,239 297,245 292.5,254 C290,261 290,270 289.6,281 C289,300 287.5,314 285,326 C283.5,340 283,355 283.5,365 C284,378 285,388 287,393 C289,398 295,401 300,402.4 C302,401 298,396 295,393 C292,389 292,384 295.5,382.5 C299,381 300,386 299.8,391"/>
<path d="M312,282 C309,292 303,315 299,330 C296,342 294,352 294,362 C294,368 297,373 299.5,378 C301,382 301,388 300.5,392"/>
<path d="M312,282 C311,300 309,325 307.5,345 C306.5,365 306,385 306,406"/>
<path d="M341,149.4 C360,149.4 374.2,165 374.2,182.8 C374.2,195 368,208 361.9,213.6 C357,218 353,222 354.5,226 C356,230 362,233 370,237 C382,242 391,247 393.9,257.4 C396,265 396.3,275 396.3,281 C397,300 399.8,314 400.7,337.6 C401.5,352 404.5,362 404.5,371.4 C404.5,380 402,386 399.5,390 C396,396 391,400 386.6,401.5 C384,401 386,396 389,393 C392,389 392,384 388.5,382.5 C385,381 384,386 384.2,391"/>
<path d="M374,282 C377,292 383,315 387,330 C390,342 392,352 392,362 C392,368 389,373 386.5,378 C385,382 385,388 385.5,392"/>
<path d="M374,282 C375,300 377,325 378.5,345 C379.5,365 380,385 380,406"/>
</g>
<circle cx="294.4" cy="321.5" r="6.6" fill="#7bd4ef"/><path d="M292,319 L297,324 M297,319 L292,324" stroke="#14104a" stroke-width="1.4"/>
<circle cx="392.3" cy="321.6" r="6.6" fill="#7bd4ef"/><path d="M390,319.2 L394.6,324 M394.6,319.2 L390,324" stroke="#14104a" stroke-width="1.4"/>
<path d="M294.4,326 C292,345 287,365 270,379" fill="none" stroke="#c9b3b8" stroke-width="1.5"/>
<path d="M392.9,325 C394,335 396,350 397,352 C400,360 404,366 408.4,371" fill="none" stroke="#85859a" stroke-width="1.6"/>
<g fill="#fff" stroke="#14104a" stroke-width="1.2" stroke-linejoin="round">
<path d="M186,309 C187,305 197,304.5 202,307 C205,309 204.5,316 202,318 C199,320 189,319 186.5,317 C184.5,315 185,311 186,309 Z"/>
<path d="M184.5,318 C186,315.5 197,316 200.5,318.5 C203,321 202,326.5 199,327.5 C195,328.5 186,327 184,324.5 C182.5,322.5 183,320 184.5,318 Z"/>
<path d="M181,324 C183,321.5 193,323 197,325.5 C199.5,328 198.5,333 195.5,334 C191,335 182,332.5 180.5,330 C179.5,328 179.5,326 181,324 Z"/>
<path d="M180.5,331 C182.5,329 190,330.5 193.5,333 C195.5,335.5 194.5,339.5 191.5,340 C187,340.5 181,338.5 180,336 C179.5,334.5 179.5,332.5 180.5,331 Z"/>
</g>
<g fill="none" stroke="#14104a" stroke-width="1.2" stroke-linecap="round">
<path d="M82,306 C100,307 120,309 140,309.6 C155,310 165,309 172,305.5 C178,303 184,301.8 192,301.5 L204.3,301.3 C207,301.5 208,304 205,307 C203.5,308.5 201,309 198,309"/>
<path d="M73,331 C95,331 120,332 140,333 C155,334 165,336 174,338 C180,340 186,341 191,340"/>
<path d="M92,311 C100,313 108,317 114,319.5 L127.8,320"/>
<path d="M92,326.7 C100,324 108,322 114,321"/>
</g>
<path d="M142.2,320 C150,319 158,318 163,316.7 C172,313 180,306 186,300" fill="none" stroke="#9a9ab0" stroke-width="0.9"/>
<path d="M171,322 L180,323" fill="none" stroke="#8f8fa8" stroke-width="0.7"/>
<rect x="127.8" y="316.7" width="6.6" height="6.6" fill="#f4e9ec" stroke="#a8a0b0" stroke-width="0.6"/>
<rect x="135.6" y="312.2" width="6.6" height="16.7" rx="1" fill="#fbf6f7" stroke="#a8a0b0" stroke-width="0.6"/>
<rect x="134" y="319" width="9" height="2" fill="#e8b8c4"/>

<path d="M122.9,98.5 L123.7,98.6 L124.5,99 L125.2,99.7 L126,100.5 L126.8,101.6 L127.6,102.8 L128.3,104.1 L129.1,105.5 L129.9,106.8 L130.7,108.1 L131.4,109.3 L132.2,110.3 L133,111.1 L133.8,111.7 L134.6,112 L135.3,112.1 L136.1,111.9 L136.9,111.4 L137.7,110.7 L138.4,109.8 L139.2,108.7 L140,107.5 L140.8,106.2 L141.5,104.8 L142.3,103.5 L143.1,102.2 L143.9,101.1 L144.6,100.1 L145.4,99.4 L146.2,98.8 L147,98.5 L147.8,98.5 L148.5,98.8 L149.3,99.3 L150.1,100 L150.9,101 L151.6,102.1 L152.4,103.4 L153.2,104.7 L154,106.1 L154.7,107.4 L155.5,108.6 L156.3,109.7 L157.1,110.7 L157.8,111.4 L158.6,111.9 L159.4,112.1 L160.2,112 L161,111.7 L161.7,111.2 L162.5,110.4 L163.3,109.4 L164.1,108.2 L164.8,106.9 L165.6,105.6 L166.4,104.2 L167.2,102.9 L167.9,101.7 L168.7,100.6 L169.5,99.7 L169.5,106.7 L168.7,105.4 L167.9,104.1 L167.2,102.8 L166.4,101.6 L165.6,100.5 L164.8,99.6 L164.1,99 L163.3,98.6 L162.5,98.5 L161.7,98.6 L161,99.1 L160.2,99.7 L159.4,100.6 L158.6,101.6 L157.8,102.9 L157.1,104.2 L156.3,105.5 L155.5,106.8 L154.7,108.1 L154,109.3 L153.2,110.3 L152.4,111.1 L151.6,111.7 L150.9,112 L150.1,112.1 L149.3,111.9 L148.5,111.4 L147.8,110.7 L147,109.8 L146.2,108.7 L145.4,107.5 L144.6,106.1 L143.9,104.8 L143.1,103.5 L142.3,102.2 L141.5,101.1 L140.8,100.1 L140,99.3 L139.2,98.8 L138.4,98.5 L137.7,98.5 L136.9,98.8 L136.1,99.3 L135.3,100.1 L134.6,101 L133.8,102.2 L133,103.4 L132.2,104.8 L131.4,106.1 L130.7,107.4 L129.9,108.7 L129.1,109.8 L128.3,110.7 L127.6,111.4 L126.8,111.9 L126,112.1 L125.2,112 L124.5,111.7 L123.7,111.1 L122.9,110.3Z" fill="#b9e0f0" fill-rule="evenodd"/><path d="M123.7,98.6 L123.7,111.1 M125.2,99.7 L125.2,112 M126.8,101.6 L126.8,111.9 M128.3,104.1 L128.3,110.7 M129.9,106.8 L129.9,108.7 M131.4,109.3 L131.4,106.1 M133,111.1 L133,103.4 M134.6,112 L134.6,101 M136.1,111.9 L136.1,99.3 M137.7,110.7 L137.7,98.5 M139.2,108.7 L139.2,98.8 M140.8,106.2 L140.8,100.1 M142.3,103.5 L142.3,102.2 M143.9,101.1 L143.9,104.8 M145.4,99.4 L145.4,107.5 M147,98.5 L147,109.8 M148.5,98.8 L148.5,111.4 M150.1,100 L150.1,112.1 M151.6,102.1 L151.6,111.7 M153.2,104.7 L153.2,110.3 M154.7,107.4 L154.7,108.1 M156.3,109.7 L156.3,105.5 M157.8,111.4 L157.8,102.9 M159.4,112.1 L159.4,100.6 M161,111.7 L161,99.1 M162.5,110.4 L162.5,98.5 M164.1,108.2 L164.1,99 M165.6,105.6 L165.6,100.5 M167.2,102.9 L167.2,102.8 M168.7,100.6 L168.7,105.4" stroke="#fff" stroke-width="0.5"/><path d="M122.9,98.5 L123.7,98.6 L124.5,99 L125.2,99.7 L126,100.5 L126.8,101.6 L127.6,102.8 L128.3,104.1 L129.1,105.5 L129.9,106.8 L130.7,108.1 L131.4,109.3 L132.2,110.3 L133,111.1 L133.8,111.7 L134.6,112 L135.3,112.1 L136.1,111.9 L136.9,111.4 L137.7,110.7 L138.4,109.8 L139.2,108.7 L140,107.5 L140.8,106.2 L141.5,104.8 L142.3,103.5 L143.1,102.2 L143.9,101.1 L144.6,100.1 L145.4,99.4 L146.2,98.8 L147,98.5 L147.8,98.5 L148.5,98.8 L149.3,99.3 L150.1,100 L150.9,101 L151.6,102.1 L152.4,103.4 L153.2,104.7 L154,106.1 L154.7,107.4 L155.5,108.6 L156.3,109.7 L157.1,110.7 L157.8,111.4 L158.6,111.9 L159.4,112.1 L160.2,112 L161,111.7 L161.7,111.2 L162.5,110.4 L163.3,109.4 L164.1,108.2 L164.8,106.9 L165.6,105.6 L166.4,104.2 L167.2,102.9 L167.9,101.7 L168.7,100.6 L169.5,99.7" fill="none" stroke="#14104a" stroke-width="2"/><path d="M122.9,110.3 L123.7,111.1 L124.5,111.7 L125.2,112 L126,112.1 L126.8,111.9 L127.6,111.4 L128.3,110.7 L129.1,109.8 L129.9,108.7 L130.7,107.4 L131.4,106.1 L132.2,104.8 L133,103.4 L133.8,102.2 L134.6,101 L135.3,100.1 L136.1,99.3 L136.9,98.8 L137.7,98.5 L138.4,98.5 L139.2,98.8 L140,99.3 L140.8,100.1 L141.5,101.1 L142.3,102.2 L143.1,103.5 L143.9,104.8 L144.6,106.1 L145.4,107.5 L146.2,108.7 L147,109.8 L147.8,110.7 L148.5,111.4 L149.3,111.9 L150.1,112.1 L150.9,112 L151.6,111.7 L152.4,111.1 L153.2,110.3 L154,109.3 L154.7,108.1 L155.5,106.8 L156.3,105.5 L157.1,104.2 L157.8,102.9 L158.6,101.6 L159.4,100.6 L160.2,99.7 L161,99.1 L161.7,98.6 L162.5,98.5 L163.3,98.6 L164.1,99 L164.8,99.6 L165.6,100.5 L166.4,101.6 L167.2,102.8 L167.9,104.1 L168.7,105.4 L169.5,106.7" fill="none" stroke="#1f2f63" stroke-width="1.6"/>
<path d="M171.5,98.3 L179.6,98.3 L179.6,112.4 L171.5,112.4" fill="none" stroke="#14104a" stroke-width="1" stroke-dasharray="1.6 1.2"/>
<path d="M483.1,43.2 L474.7,43.2 L474.7,57.4 L483.1,57.4 M474.7,50.4 L446.2,50.4 L446.2,91" fill="none" stroke="#3a3a48" stroke-width="1.1" stroke-dasharray="1.5 1.1"/>
<path d="M458.7,491 L466.7,491 L466.7,500.6 L458.7,500.6 M466.7,495.8 L492.4,495.8" fill="none" stroke="#3a3a48" stroke-width="1.1" stroke-dasharray="1.5 1.1"/>
<path d="M215.5,494.5 L222,494.5" stroke="#333" stroke-width="0.9"/>
<g fill="#eeeef3" stroke="#14104a" stroke-width="1.1" stroke-linejoin="round">
<path d="M485,35 C481.5,35.5 481,40 483,45 C485,50 489,56 494.5,57.5 C498.5,58.5 500.5,55 500,51 C499.5,47.5 496.5,46 494,44 C491,41.5 489,35 485,35 Z"/>
<path d="M511,33 C514.5,33.5 515,38.5 513.5,44 C512,50 509,55.5 504.5,56.8 C501,57.5 499.5,54 500.5,50 C501.5,46.5 504.5,45 506.5,42 C508.5,39 508,33 511,33 Z"/>
<path d="M503.2,55.8 L503.2,65" fill="none"/>
<rect x="499.3" y="65" width="9.3" height="10.8" rx="1.5"/>
<rect x="499.3" y="76" width="9.3" height="24.5" rx="1.5"/>
<rect x="499.3" y="100.5" width="9.3" height="10" rx="3.5"/>
</g>
<path d="M499.3,77 L508.6,74 M499.3,101.5 L508.6,98.5" stroke="#14104a" stroke-width="1.6"/>
<circle cx="77.8" cy="69.2" r="10.3" fill="#14104a"/><text x="77.8" y="75" text-anchor="middle" font-size="16.8" font-weight="bold" fill="#fff" transform="translate(77.8,0) scale(0.74,1) translate(-77.8,0)">2</text>
<text x="94.3" y="68.7" font-size="9.7" font-weight="bold" fill="#14104a" stroke="#14104a" stroke-width="0.3" textLength="62.6" lengthAdjust="spacingAndGlyphs">Make CAR T</text>
<text x="94.3" y="79.7" font-size="9.7" font-weight="bold" fill="#14104a" stroke="#14104a" stroke-width="0.3" textLength="75.6" lengthAdjust="spacingAndGlyphs">cells in the lab</text>
<circle cx="497.8" cy="206.9" r="10.3" fill="#14104a"/><text x="497.8" y="212.7" text-anchor="middle" font-size="16.8" font-weight="bold" fill="#fff" transform="translate(497.8,0) scale(0.74,1) translate(-497.8,0)">3</text>
<text x="515.8" y="205" font-size="9.7" font-weight="bold" fill="#14104a" stroke="#14104a" stroke-width="0.3" textLength="73.6" lengthAdjust="spacingAndGlyphs">Grow millions</text>
<text x="515.8" y="215.2" font-size="9.7" font-weight="bold" fill="#14104a" stroke="#14104a" stroke-width="0.3" textLength="71.1" lengthAdjust="spacingAndGlyphs">of CAR T cells</text>
<circle cx="110.1" cy="390.1" r="10.3" fill="#14104a"/><text x="110.1" y="395.9" text-anchor="middle" font-size="16.8" font-weight="bold" fill="#fff" transform="translate(110.1,0) scale(0.74,1) translate(-110.1,0)">1</text>
<text x="128.7" y="388" font-size="9.7" font-weight="bold" fill="#14104a" stroke="#14104a" stroke-width="0.3" textLength="105" lengthAdjust="spacingAndGlyphs">Remove blood from</text>
<text x="128.7" y="398.3" font-size="9.7" font-weight="bold" fill="#14104a" stroke="#14104a" stroke-width="0.3" textLength="108.5" lengthAdjust="spacingAndGlyphs">patient to get T cells</text>
<circle cx="417.6" cy="377.8" r="10.3" fill="#14104a"/><text x="417.6" y="383.6" text-anchor="middle" font-size="16.8" font-weight="bold" fill="#fff" transform="translate(417.6,0) scale(0.74,1) translate(-417.6,0)">4</text>
<text x="435.4" y="374.5" font-size="9.7" font-weight="bold" fill="#14104a" stroke="#14104a" stroke-width="0.3" textLength="32.4" lengthAdjust="spacingAndGlyphs">Infuse</text>
<text x="435.4" y="385.2" font-size="9.7" font-weight="bold" fill="#14104a" stroke="#14104a" stroke-width="0.3" textLength="57.8" lengthAdjust="spacingAndGlyphs">CAR T cells</text>
<text x="435.4" y="395.8" font-size="9.7" font-weight="bold" fill="#14104a" stroke="#14104a" stroke-width="0.3" textLength="63" lengthAdjust="spacingAndGlyphs">into patient</text>
<circle cx="346.5" cy="405.1" r="10.3" fill="#14104a"/><text x="346.5" y="410.9" text-anchor="middle" font-size="16.8" font-weight="bold" fill="#fff" transform="translate(346.5,0) scale(0.74,1) translate(-346.5,0)">5</text>
<text x="304.2" y="435.5" font-size="9.9" font-weight="bold" fill="#14104a" stroke="#14104a" stroke-width="0.3" textLength="84.7" lengthAdjust="spacingAndGlyphs">CAR T cells bind</text>
<text x="308.9" y="445.9" font-size="9.9" font-weight="bold" fill="#14104a" stroke="#14104a" stroke-width="0.3" textLength="75.8" lengthAdjust="spacingAndGlyphs">to cancer cells</text>
<text x="311.3" y="456.9" font-size="9.9" font-weight="bold" fill="#14104a" stroke="#14104a" stroke-width="0.3" textLength="70.5" lengthAdjust="spacingAndGlyphs">and kill them</text>
<text x="231.8" y="27.7" font-size="24.7" font-weight="bold" fill="#5d5d5d" stroke="#5d5d5d" stroke-width="0.9" textLength="212.4" lengthAdjust="spacingAndGlyphs">CAR T-Cell Therapy</text>
<text x="517.9" y="41.6" font-size="10" font-weight="bold" fill="#545456" stroke="#545456" stroke-width="0.4" textLength="20.2" lengthAdjust="spacingAndGlyphs">CAR</text>
<text x="517.9" y="51.8" font-size="10" font-weight="bold" fill="#545456" stroke="#545456" stroke-width="0.4" textLength="35.6" lengthAdjust="spacingAndGlyphs">protein</text>
<text x="426" y="172.6" font-size="10" font-weight="bold" fill="#545456" stroke="#545456" stroke-width="0.4" textLength="47.5" lengthAdjust="spacingAndGlyphs">CAR T cell</text>
<text x="122.8" y="125" font-size="10" font-weight="bold" fill="#545456" stroke="#545456" stroke-width="0.4" textLength="52.2" lengthAdjust="spacingAndGlyphs">Insert gene</text>
<text x="130.9" y="135.4" font-size="10" font-weight="bold" fill="#545456" stroke="#545456" stroke-width="0.4" textLength="36" lengthAdjust="spacingAndGlyphs">for CAR</text>
<text x="188.2" y="266" font-size="10" font-weight="bold" fill="#545456" stroke="#545456" stroke-width="0.4" textLength="23.6" lengthAdjust="spacingAndGlyphs">T cell</text>
<text x="163.6" y="496.3" font-size="10" font-weight="bold" fill="#545456" stroke="#545456" stroke-width="0.4" textLength="51.2" lengthAdjust="spacingAndGlyphs">Cancer cell</text>
<text x="498.9" y="498.8" font-size="10" font-weight="bold" fill="#545456" stroke="#545456" stroke-width="0.4" textLength="37.8" lengthAdjust="spacingAndGlyphs">Antigen</text>
<path d="M222,86.5 L223.5,80.7 L226.7,86.9 L229.1,87.4 L231.3,88.3 L233.6,86.2 L235.5,90.5 L237.4,92 L240.9,89.9 L240.7,95.3 L242.2,97.2 L247.8,95.2 L244.4,101.4 L244.5,103.9 L246.3,105.9 L246.4,108.3 L245.4,110.7 L246.2,113.1 L245.8,115.4 L248.2,117.3 L244.4,120 L243.6,122.3 L242.4,124.3 L240.5,125.9 L239,127.7 L237.7,129.9 L235.5,130.9 L236,134 L231.3,133.1 L229,133.7 L226.6,134 L224.3,134.5 L222,135 L219.6,135.4 L217.1,135.1 L214.7,134.6 L213,132.4 L210.2,132.7 L208.5,130.9 L207,129 L204.9,127.8 L203.3,126.1 L200.2,126.8 L200.6,122.1 L200.4,119.7 L199.1,117.7 L198.2,115.4 L194.9,114.7 L197.8,110.7 L198.8,108.4 L199.1,106.1 L199.2,103.8 L198.9,101.1 L200,98.9 L201.8,97.2 L200.1,94.4 L204.9,93.6 L206.6,92 L205.4,88.3 L210.6,89.3 L213,89 L215,87.5 L214.3,80 L219.6,86.6Z" fill="#fff" stroke="#4a4870" stroke-width="0.5"/>
<path d="M247.5,112.1 L247.7,113.8 L247.4,115.4 L248,117.2 L246.5,118.5 L245.4,119.9 L248.3,122.9 L245.6,123.6 L243.4,124.2 L243.4,126.2 L242.4,127.5 L239.9,127.5 L240.9,130.8 L240.4,132.9 L237.7,132.3 L236.7,133.9 L234.3,133 L232.8,133.6 L232.4,137 L230.1,135.7 L228.8,137.1 L227.3,138.4 L225.3,136.5 L223.7,137.2 L222,140.5 L220.4,136.9 L218.4,139.4 L216.5,139.7 L215.8,134.7 L213.5,136.9 L211.6,136.9 L211.3,133.5 L208.8,134.7 L206.8,134.6 L206.5,132.1 L204.9,131.4 L204.7,129.2 L204.5,127.2 L202.6,126.8 L202.3,125 L200,124.6 L198.4,123.6 L199.3,121.3 L197.2,120.4 L196.2,118.9 L197.2,116.9 L196.9,115.3 L196.6,113.7 L196.5,112.1 L197.4,107.5 L195.4,108.7 L197.8,109.5 L199.6,110.3 L200.1,111.2 L198.6,112.6 L201,113 L201.5,113.9 L202.1,114.8 L201.8,116.1 L201,117.8 L203.7,117.7 L204.9,118.4 L206.1,119.1 L207.2,119.8 L208.6,120.3 L209.4,121.5 L210.5,122.4 L212.4,122.3 L214.3,122 L215.6,122.9 L216.9,123.8 L219,122 L220.5,122.3 L222,123.3 L223.6,123.5 L225.2,123.2 L226.8,122.9 L228.6,123.3 L229.8,122.1 L231.8,122.6 L233.6,122.5 L234,120.8 L236.3,121.2 L237.4,120.3 L239.1,120 L238,117.6 L241.6,118.5 L242.2,117.4 L243.9,116.9 L244.9,116 L243.2,114.1 L245.3,113.7 L243.9,112.2 L246.2,111.6 L247.9,110.8 L245.3,109.4 L246.1,108.5 L245.1,107.5Z" fill="#14104a"/>
<ellipse cx="222" cy="107" rx="24" ry="15.5" fill="#fff" stroke="#c4c4cc" stroke-width="0.8"/>
<ellipse cx="222" cy="107" rx="20.6" ry="13" fill="#f3f3f5" stroke="#d0d0d8" stroke-width="0.5"/>
<ellipse cx="222" cy="104.7" rx="14.5" ry="11.8" fill="#eef2f6" stroke="#14104a" stroke-width="1.2"/>
<clipPath id="dn1"><path d="M210.1,112 C211.6,97.4 214,95.7 216.9,97.4 C219.1,99.8 220.6,104.7 222,105.9 C223.4,104.7 224.9,99.8 227.1,97.4 C230,95.7 232.4,97.4 233.9,112 L230.7,112 C229.5,103.5 228.5,101.5 226.6,103.9 C224.9,105.9 223.4,110.6 222,111.2 C220.6,110.6 219.1,105.9 217.4,103.9 C215.5,101.5 214.5,103.5 213.3,112 Z"/></clipPath><path d="M210.1,112 C211.6,97.4 214,95.7 216.9,97.4 C219.1,99.8 220.6,104.7 222,105.9 C223.4,104.7 224.9,99.8 227.1,97.4 C230,95.7 232.4,97.4 233.9,112 L230.7,112 C229.5,103.5 228.5,101.5 226.6,103.9 C224.9,105.9 223.4,110.6 222,111.2 C220.6,110.6 219.1,105.9 217.4,103.9 C215.5,101.5 214.5,103.5 213.3,112 Z" fill="#b5dcef"/><g clip-path="url(#dn1)"><path d="M211.2,93.9 L212.4,114.3 M213.4,93.9 L214.5,114.3 M215.5,93.9 L216.7,114.3 M217.7,93.9 L218.8,114.3 M219.8,93.9 L221,114.3 M222,93.9 L223.2,114.3 M224.2,93.9 L225.3,114.3 M226.3,93.9 L227.5,114.3 M228.5,93.9 L229.6,114.3 M230.6,93.9 L231.8,114.3 M232.8,93.9 L234,114.3" stroke="#14104a" stroke-width="0.9"/></g><path d="M210.1,112 C211.6,97.4 214,95.7 216.9,97.4 C219.1,99.8 220.6,104.7 222,105.9 C223.4,104.7 224.9,99.8 227.1,97.4 C230,95.7 232.4,97.4 233.9,112 L230.7,112 C229.5,103.5 228.5,101.5 226.6,103.9 C224.9,105.9 223.4,110.6 222,111.2 C220.6,110.6 219.1,105.9 217.4,103.9 C215.5,101.5 214.5,103.5 213.3,112 Z" fill="none" stroke="#2a4d8c" stroke-width="0.6"/>
<path d="M452.3,95.4 L454.6,95.2 L457,95.6 L459.1,96.7 L461.8,92.4 L463.3,98.5 L465.5,99.2 L467.1,101 L471.1,98.3 L470.3,104.2 L471.7,106.1 L472.8,108 L476.4,107.6 L474.6,112.2 L475.5,114.4 L475.5,116.7 L479.6,117.7 L475.5,121.3 L474.4,123.4 L474.6,125.8 L477.9,128.2 L472.8,130 L471.7,131.9 L474.3,135.3 L468.8,135.5 L467.1,137 L468.6,140.9 L463.3,139.5 L461,139.9 L459.1,141.5 L456.9,142.4 L454.6,142.2 L453.6,145.4 L450,142.2 L447.8,141.8 L446,144.2 L443.4,140.5 L441.8,138.7 L439.6,138 L437.5,137 L434.1,139.1 L434.3,133.8 L432.9,131.9 L429.5,132.7 L430.8,127.9 L430,125.8 L425.8,125.6 L429.1,121.3 L428.6,119 L429.1,116.7 L425.2,115 L430,112.2 L431.7,110.5 L431.8,108 L429.6,105.4 L434.3,104.2 L435.8,102.5 L432.8,97.5 L439.4,99.6 L441.5,98.8 L443.4,97.5 L442.7,92.1 L447.8,96.2 L450,95.8 L450.8,89.2 L454.6,95.8Z" fill="#fff" stroke="#4a4870" stroke-width="0.5"/>
<path d="M477.5,115.9 L478.1,117.8 L477.3,119.7 L477.3,121.6 L477.8,123.6 L477.2,125.4 L475.6,126.9 L474.9,128.6 L473.7,130.1 L472.9,131.7 L472.7,133.7 L474.9,137.9 L469.6,135.9 L471.1,140.2 L469,140.9 L465.6,139.5 L464.1,140.5 L464.3,145.2 L462.5,146.3 L459.2,142.8 L457.6,144 L455.8,145 L454,147 L452,145.7 L449.9,146.5 L448.3,144.1 L446.2,144.9 L444.1,144.8 L442.9,142.6 L440.5,143.2 L440.2,139.9 L437.8,140.1 L436.8,138.4 L435,137.6 L434.5,135.6 L433.1,134.4 L432.5,132.6 L430.6,131.6 L430.7,129.5 L429.5,128.1 L428,126.6 L427.5,124.8 L428,122.8 L425.6,121.1 L426.4,119.1 L427.6,117.3 L427,115.3 L427.4,113.4 L428.1,111.6 L427.8,110.3 L427.2,111.5 L428.8,112.9 L430.4,114.1 L429.2,115.2 L427.4,116.4 L427.4,117.6 L428.4,118.7 L430.4,119.5 L429.9,120.8 L430.8,121.9 L431.1,123.1 L433.2,123.6 L432.1,125.5 L433.5,126.4 L436.8,125.9 L437.7,126.9 L437.8,128.8 L440.6,128.2 L440.9,130.2 L443.3,129.7 L444.7,130.5 L446.5,130.9 L448.6,129.9 L450.3,130.2 L452,130.2 L453.8,131.2 L455.7,131.1 L457,129.5 L459.5,131.1 L460.6,129.6 L462,128.8 L463.9,128.7 L466.5,129.2 L467.1,127.7 L468.6,127 L470.8,126.7 L472.2,125.9 L472.7,124.6 L472.5,123.1 L474,122.3 L475.9,121.6 L476.1,120.3 L475.8,119 L475.3,117.8 L475.5,116.7 L477.1,115.6 L476.3,114.4 L474,113.4Z" fill="#14104a"/>
<ellipse cx="452.3" cy="115.4" rx="23" ry="14.9" fill="#fff" stroke="#c4c4cc" stroke-width="0.7"/>
<ellipse cx="452.3" cy="115.4" rx="19.8" ry="12.5" fill="#f3f3f5" stroke="#d0d0d8" stroke-width="0.5"/>
<ellipse cx="452.3" cy="113.2" rx="13.9" ry="11.3" fill="#eef2f6" stroke="#14104a" stroke-width="1.2"/>
<clipPath id="dn2"><path d="M440.9,120.2 C442.3,106.2 444.6,104.6 447.4,106.2 C449.5,108.5 450.9,113.2 452.3,114.4 C453.7,113.2 455.1,108.5 457.2,106.2 C460,104.6 462.3,106.2 463.7,120.2 L460.7,120.2 C459.5,112.1 458.6,110.2 456.8,112.5 C455.1,114.4 453.7,118.9 452.3,119.4 C450.9,118.9 449.5,114.4 447.8,112.5 C446,110.2 445.1,112.1 443.9,120.2 Z"/></clipPath><path d="M440.9,120.2 C442.3,106.2 444.6,104.6 447.4,106.2 C449.5,108.5 450.9,113.2 452.3,114.4 C453.7,113.2 455.1,108.5 457.2,106.2 C460,104.6 462.3,106.2 463.7,120.2 L460.7,120.2 C459.5,112.1 458.6,110.2 456.8,112.5 C455.1,114.4 453.7,118.9 452.3,119.4 C450.9,118.9 449.5,114.4 447.8,112.5 C446,110.2 445.1,112.1 443.9,120.2 Z" fill="#b5dcef"/><g clip-path="url(#dn2)"><path d="M441.9,102.9 L443,122.5 M444,102.9 L445.1,122.5 M446.1,102.9 L447.2,122.5 M448.1,102.9 L449.3,122.5 M450.2,102.9 L451.3,122.5 M452.3,102.9 L453.4,122.5 M454.4,102.9 L455.5,122.5 M456.5,102.9 L457.6,122.5 M458.5,102.9 L459.6,122.5 M460.6,102.9 L461.7,122.5 M462.7,102.9 L463.8,122.5" stroke="#14104a" stroke-width="0.8"/></g><path d="M440.9,120.2 C442.3,106.2 444.6,104.6 447.4,106.2 C449.5,108.5 450.9,113.2 452.3,114.4 C453.7,113.2 455.1,108.5 457.2,106.2 C460,104.6 462.3,106.2 463.7,120.2 L460.7,120.2 C459.5,112.1 458.6,110.2 456.8,112.5 C455.1,114.4 453.7,118.9 452.3,119.4 C450.9,118.9 449.5,114.4 447.8,112.5 C446,110.2 445.1,112.1 443.9,120.2 Z" fill="none" stroke="#2a4d8c" stroke-width="0.6"/>
<g transform="translate(446.2,93.5) rotate(0) scale(1.0)"><path d="M0,3 L0,0 M0,0 L-2,-2.6 M0,0 L2,-2.6" stroke="#2f8fd6" stroke-width="1.1" fill="none" stroke-linecap="round"/></g>
<g transform="translate(464.5,94.5) rotate(15) scale(1.0)"><path d="M0,3 L0,0 M0,0 L-2,-2.6 M0,0 L2,-2.6" stroke="#2f8fd6" stroke-width="1.1" fill="none" stroke-linecap="round"/></g>
<g transform="translate(428.5,104) rotate(-55) scale(1.0)"><path d="M0,3 L0,0 M0,0 L-2,-2.6 M0,0 L2,-2.6" stroke="#2f8fd6" stroke-width="1.1" fill="none" stroke-linecap="round"/></g>
<g transform="translate(477.5,119) rotate(80) scale(1.0)"><path d="M0,3 L0,0 M0,0 L-2,-2.6 M0,0 L2,-2.6" stroke="#2f8fd6" stroke-width="1.1" fill="none" stroke-linecap="round"/></g>
<path d="M159.8,248.7 L161.1,244.3 L164.2,249.1 L166,250.5 L168.3,250.4 L172.3,244.7 L172.2,252.4 L174,253.7 L175.6,255.2 L179.3,253.3 L178.4,258.6 L179.5,260.5 L184.3,259.4 L181.1,264.5 L181.7,266.6 L184.6,267.3 L182.1,271 L182,273.2 L181.4,275.3 L180.4,277.3 L180.4,279.5 L183.1,282 L178.4,283.4 L176.4,284.7 L175.6,286.8 L176.7,289.6 L172.2,289.6 L170,290.1 L168.5,292.1 L166.3,292.3 L166,295.6 L162,293.2 L159.8,293.3 L158.6,296.4 L155.4,292.9 L153.3,292.3 L151.2,295.2 L149.3,290.7 L147.1,290 L145.6,288.2 L143.1,289.4 L142.6,285.2 L142,282.9 L140.1,281.5 L136.7,281.9 L138.5,277.5 L138.2,275.3 L138.4,273.1 L138.1,271 L137,268.8 L137.9,266.6 L134.6,264.7 L139.2,262.5 L140.1,260.5 L137.8,257.8 L142.6,256.8 L144.5,255.7 L145.3,253.3 L147.4,252.4 L145.6,247.4 L151.3,250.4 L153.3,249.7 L153,243.7 L157.6,248.8Z" fill="#fff" stroke="#4a4870" stroke-width="0.5"/>
<path d="M183.2,272.3 L183.1,273.8 L182.9,275.3 L182.4,276.7 L181.5,278 L182.9,280 L181.8,281.2 L181.3,282.7 L179.1,283.2 L179.8,285.5 L176.9,285.1 L177.5,287.5 L175.5,287.7 L174.5,288.7 L173.5,289.9 L172.8,291.5 L172.1,293.4 L170.6,294 L168.9,294.1 L167.6,295.1 L165.6,293.5 L164,293.1 L163.2,297.8 L161.4,296 L159.8,296.3 L158.2,295.8 L156.8,295.1 L155.2,295.3 L154.1,293.3 L152.6,293.3 L150.8,293.7 L149.9,292.1 L147.6,293.2 L146.7,291.6 L144.9,291.4 L144,290.1 L144.6,287.2 L139.7,289.8 L141,286.5 L137.9,286.8 L139.4,283.9 L138,282.9 L138.3,281 L137.2,279.8 L136.4,278.5 L137,276.7 L136.1,275.4 L136.4,273.8 L136.4,272.3 L137,268.1 L138.5,268.9 L138.3,269.8 L137.8,270.8 L139.3,271.5 L139.7,272.4 L139.1,273.5 L138.4,274.8 L141.1,274.9 L139.9,276.5 L140.9,277.3 L143.1,277.4 L144.6,277.7 L145.8,278.2 L145.8,279.7 L146.7,280.6 L147.9,281.2 L150.4,280.2 L151.3,281.1 L153.2,280.5 L154.2,281.4 L155.6,281.6 L157.1,281.3 L158.4,281.3 L159.8,283.5 L161.2,281.8 L162.7,282.2 L164.2,282.1 L165.6,281.8 L167.1,281.8 L168.4,281.2 L169.7,280.8 L170.2,279.5 L172.5,280.2 L173.8,279.7 L175.1,279.2 L175.2,277.8 L176.6,277.4 L178.5,277.2 L179.2,276.3 L177.9,274.7 L179.5,274.2 L179.6,273.2 L182,272.9 L181.3,271.7 L181.7,270.8 L181.3,269.8 L182.4,269 L183.5,268.1Z" fill="#14104a"/>
<ellipse cx="159.8" cy="267.6" rx="22.1" ry="14.3" fill="#fff" stroke="#c4c4cc" stroke-width="0.7"/>
<ellipse cx="159.8" cy="267.6" rx="19" ry="12" fill="#f3f3f5" stroke="#d0d0d8" stroke-width="0.5"/>
<ellipse cx="159.8" cy="265.5" rx="13.3" ry="10.8" fill="#2f2c60" stroke="#14104a" stroke-width="1.2"/>
<path d="M158.3,271.9h0.6 M156.2,264.6h0.6 M148.1,265.3h0.6 M151.8,262.8h0.6 M161.8,259.2h0.6 M158.1,274.2h0.6 M165.4,273.4h0.6 M166.4,260.7h0.6 M156.8,265.2h0.6 M164.7,273h0.6 M158.5,257.9h0.6 M166.4,271.7h0.6 M170.9,264.9h0.6 M155.8,259.9h0.6 M155.6,267.2h0.6 M171.2,267.9h0.6 M153.9,269.1h0.6 M148,266.4h0.6 M168.3,261.4h0.6 M161.6,258.6h0.6 M153.5,258.5h0.6 M158.4,263.6h0.6 M150.9,267.1h0.6 M154.4,257.3h0.6 M161.4,259.4h0.6 M149.3,266.6h0.6 M160.1,259.7h0.6 M152.4,270.1h0.6 M150,265.8h0.6 M164.5,260.5h0.6 M155.1,263.4h0.6 M163.7,258h0.6 M154.3,262h0.6 M164.9,268h0.6 M159,273.9h0.6 M150,261.4h0.6 M165.4,263.3h0.6 M165.6,272.2h0.6 M150,269.4h0.6 M154.4,267h0.6 M169.5,262.6h0.6 M162.8,257.7h0.6 M170.5,262.7h0.6 M162.8,266.6h0.6 M169.8,267.6h0.6 M149.7,265.5h0.6 M163.9,267.8h0.6 M166.7,260.3h0.6 M162.1,268.2h0.6 M163.2,257.1h0.6 M168.7,271.8h0.6 M165.2,269.7h0.6 M152.1,259.4h0.6 M161,264.5h0.6 M159.7,269.1h0.6 M168.5,269.2h0.6 M164.6,270.4h0.6 M155.3,257.8h0.6 M150.1,263.6h0.6 M156.5,261.7h0.6 M161.7,274.8h0.6 M159.3,274.7h0.6 M166.1,267.3h0.6 M157.2,261.4h0.6 M169.3,265.3h0.6 M166.9,260h0.6 M162.5,262.7h0.6 M156,269.1h0.6 M156.8,267.8h0.6 M165.3,270.7h0.6" stroke="#7a77a8" stroke-width="0.6"/>
<path d="M252.6,462.4 L251.4,457.5 M283,466.4 L285.5,462 M300.6,487.3 L305.3,485.6 M301.6,511.4 L306.5,512.6 M288.7,531.6 L291.9,535.5 M269.9,540.4 L270.8,545.3 M249.3,538.6 L247.6,543.3 M228.4,521 L224,523.5 M225.4,487.3 L220.7,485.6 M240.1,468.2 L237.2,464.1" stroke="#14104a" stroke-width="1.2" stroke-linecap="round"/>
<path d="M304.9,498.2 Q304.7,501 304.5,503.7 Q304.2,506.4 303.7,509.1 Q303.1,511.7 302.5,514.4 Q301.8,517.1 300.6,519.5 Q299.3,522 297.9,524.3 Q296.5,526.7 294.4,528.5 Q292.4,530.4 290.3,532.2 Q288.3,534 286.2,535.7 Q284.1,537.5 281.6,538.6 Q279.1,539.8 276.4,540.3 Q273.7,540.9 271,541.3 Q268.3,541.6 265.7,542.2 Q263,542.8 260.3,542.6 Q257.6,542.4 254.8,542.2 Q252,542 249.6,540.6 Q247.1,539.3 244.9,537.8 Q242.6,536.3 240.2,535.1 Q237.8,533.8 235.3,532.5 Q232.8,531.2 231.1,529 Q229.4,526.8 228.1,524.4 Q226.7,522 225.7,519.4 Q224.8,516.8 223.9,514.3 Q223,511.7 222.1,509.1 Q221.3,506.5 221.1,503.7 Q221,501 221.6,498.3 Q222.3,495.6 222.5,492.9 Q222.6,490.2 223.4,487.6 Q224.3,485 225.5,482.5 Q226.7,480.1 228.1,477.7 Q229.5,475.3 231.8,473.7 Q234.1,472.1 235.8,469.9 Q237.5,467.7 239.7,466.1 Q242,464.6 244.4,463.3 Q246.8,462 249.5,461.4 Q252.2,460.8 254.9,460.5 Q257.6,460.3 260.3,460 Q263,459.6 265.7,459.6 Q268.4,459.7 271.2,459.8 Q274,459.9 276.4,461.3 Q278.9,462.7 281.3,464 Q283.7,465.2 286,466.6 Q288.3,468.1 290.7,469.4 Q293.2,470.8 294.9,473 Q296.7,475.1 298,477.6 Q299.2,480.1 300.3,482.6 Q301.3,485.1 302.4,487.6 Q303.6,490.1 304.3,492.8 Q305.1,495.5 304.9,498.2Z" fill="#14104a"/>
<defs><linearGradient id="gNuc2" x1="0" y1="0" x2="0" y2="1">
<stop offset="0" stop-color="#716f85"/><stop offset="0.6" stop-color="#615e77"/><stop offset="0.74" stop-color="#3a3762"/><stop offset="0.9" stop-color="#14104a" stop-opacity="0"/></linearGradient></defs>
<ellipse cx="262.5" cy="500" rx="28.5" ry="21" fill="url(#gNuc2)"/>
<path d="M244,518.6h0.8 M238.4,522.6h0.8 M237.2,519.8h0.8 M241.6,520.9h0.8 M237.5,521h0.8 M241,522.8h0.8 M236.3,523.7h0.8 M237.7,522.5h0.8 M241.1,522.7h0.8 M237.8,518.6h0.8 M236.9,522.2h0.8 M241.3,517.6h0.8 M237.9,516.6h0.8 M238,520.5h0.8 M245.4,481.6h0.8 M241.8,482.7h0.8 M250.8,481.9h0.8 M248.4,482.8h0.8 M241.9,479.7h0.8 M241.8,482.3h0.8 M246.4,476.9h0.8 M245.4,482.2h0.8 M285.5,509h0.8 M289.4,508.5h0.8 M288.4,515.8h0.8 M287.5,515.6h0.8 M285.3,509.8h0.8 M284.7,513.9h0.8 M287.7,511.1h0.8 M289.5,508.3h0.8 M283,478.3h0.8 M281.6,485.9h0.8 M279.2,485.9h0.8 M287.1,483.5h0.8 M278.6,481.8h0.8 M284.9,478.8h0.8" stroke="#8a86c0" stroke-width="0.9"/>
<path d="" stroke="#14104a" stroke-width="1.2" stroke-linecap="round"/>
<path d="M366,490 L361,488 M372,515 L368,519 M380,477.5 L380,472 M402,482 L402,477 M424,485 L424,480 M445,480 L445,474 M455,486 L459,483 M438,510 L440,515 M388,523 L388,528 M418,508 L417,513" stroke="#14104a" stroke-width="1.2" stroke-linecap="round"/>
<path d="M365,499 C364,486 371,477 384,477 C396,477 404,483 413,485.5 C422,487 430,480 442,479.5 C452,479 458,485 457.5,493 C457,502 450,509 441,510 C432,511 426,507 420,508 C410,509 402,522.5 386,522.5 C372,522.5 366,512 365,499Z" fill="#14104a"/>
<ellipse cx="385.5" cy="496" rx="12.5" ry="9" fill="#65637a" transform="rotate(-20 385.5 496)"/>
<path d="M318,499 L335,499 L335,493 L355,504 L335,516 L335,511 L318,511 Z" fill="#14104a"/>
<path d="M251.5,424.9 L252.4,421.6 L254.2,425.2 L255.6,425.5 L257.3,422.8 L258.1,426.6 L259.3,427.3 L261.7,425.3 L261.4,429.1 L262,430.4 L263.2,431.2 L265.1,430.8 L264.5,433.6 L264.4,435.1 L265.7,436.2 L265.5,437.6 L265.6,439 L267.2,439.8 L265.3,441.7 L265,443.1 L266.4,444.3 L263.9,445.6 L263.2,446.8 L264.4,448.6 L261.4,448.9 L260.4,449.8 L259.3,450.6 L258.1,451.3 L256.9,452 L257.1,454.6 L254.2,452.8 L252.9,453.1 L251.5,453.1 L250.7,454.8 L248.8,452.8 L247.4,452.5 L246,454.4 L244.9,451.4 L243.8,450.5 L242.4,450.1 L241.6,448.9 L239.8,449.6 L239.8,446.8 L238.7,445.8 L239,444.2 L237.8,443.1 L237.7,441.7 L235.9,441.3 L237.4,439 L237.3,437.6 L237.7,436.3 L236,435.1 L238.5,433.6 L239.1,432.4 L236.7,430.1 L240.6,430.1 L241.6,429.1 L242.6,428.1 L241,424.9 L244.9,426.6 L246.3,426.4 L247.4,425.5 L247.5,423.2 L250.1,425Z" fill="#fff" stroke="#4a4870" stroke-width="0.4"/>
<path d="M265.8,439.8 L265.9,440.7 L265.7,441.6 L265.5,442.5 L265,443.3 L265.2,444.4 L264.9,445.2 L264.8,446.3 L264.5,447.2 L263.6,447.8 L262.2,447.9 L262.7,449.5 L261.1,449.2 L260.1,449.5 L259.7,450.4 L259.4,451.4 L258.6,451.9 L257.8,452.4 L256.6,451.9 L256.7,455.1 L255.2,453.5 L254.4,454.1 L253.4,453.9 L252.4,453.4 L251.5,452.8 L250.6,453.8 L249.7,453.2 L248.6,454 L247.7,453.8 L246.8,453.6 L246,452.9 L245.5,451.7 L244.3,452 L243.3,451.9 L242.9,450.8 L242.7,449.7 L241,450.2 L239.4,450.4 L240.4,448.2 L239.9,447.4 L239.9,446.4 L238.2,446.2 L238.9,444.9 L237.1,444.6 L237,443.6 L237.8,442.5 L237.3,441.6 L237.2,440.7 L237.2,439.8 L236.5,437.6 L236.5,438.3 L237.5,438.9 L237.7,439.5 L237.4,440.2 L238.1,440.8 L238.5,441.4 L238,442.3 L238.4,442.9 L240.4,442.8 L240.9,443.3 L240.4,444.5 L240.7,445.2 L241.8,445.3 L243.2,445.2 L244.2,445.2 L244.1,446.6 L244.8,447.1 L245.9,447.1 L246.8,447.3 L247.6,447.9 L248.7,447.3 L249.5,448.1 L250.6,447 L251.5,446.8 L252.5,448 L253.4,447.7 L254.4,447.8 L254.9,446.5 L255.9,446.6 L257,446.9 L257.3,445.8 L258.4,445.9 L259.5,446 L260.7,446 L261.2,445.3 L261.3,444.5 L262,444 L262.8,443.6 L263.8,443.3 L264.8,443 L263.2,441.6 L265.6,441.7 L265.7,441 L264.3,440 L265,439.5 L265.2,438.9 L265.2,438.2 L265.1,437.6Z" fill="#14104a"/>
<ellipse cx="251.5" cy="437.3" rx="13.9" ry="9.9" fill="#fff" stroke="#c4c4cc" stroke-width="0.4"/>
<ellipse cx="251.5" cy="437.3" rx="12" ry="8.3" fill="#f3f3f5" stroke="#d0d0d8" stroke-width="0.3"/>
<ellipse cx="251.5" cy="435.5" rx="8.4" ry="6.8" fill="#eef2f6" stroke="#14104a" stroke-width="0.7"/>
<g transform="rotate(-35 251.5 435.5)"><clipPath id="dn3"><path d="M245.3,439.3 C246.1,431.7 247.3,430.8 248.9,431.7 C250,432.9 250.7,435.5 251.5,436.1 C252.3,435.5 253,432.9 254.1,431.7 C255.7,430.8 256.9,431.7 257.7,439.3 L256,439.3 C255.4,434.9 254.9,433.9 253.9,435.1 C253,436.1 252.3,438.6 251.5,438.9 C250.7,438.6 250,436.1 249.1,435.1 C248.1,433.9 247.6,434.9 247,439.3 Z"/></clipPath><path d="M245.3,439.3 C246.1,431.7 247.3,430.8 248.9,431.7 C250,432.9 250.7,435.5 251.5,436.1 C252.3,435.5 253,432.9 254.1,431.7 C255.7,430.8 256.9,431.7 257.7,439.3 L256,439.3 C255.4,434.9 254.9,433.9 253.9,435.1 C253,436.1 252.3,438.6 251.5,438.9 C250.7,438.6 250,436.1 249.1,435.1 C248.1,433.9 247.6,434.9 247,439.3 Z" fill="#b5dcef"/><g clip-path="url(#dn3)"><path d="M245.9,429.9 L246.5,440.5 M247,429.9 L247.6,440.5 M248.1,429.9 L248.7,440.5 M249.2,429.9 L249.8,440.5 M250.4,429.9 L251,440.5 M251.5,429.9 L252.1,440.5 M252.6,429.9 L253.2,440.5 M253.8,429.9 L254.4,440.5 M254.9,429.9 L255.5,440.5 M256,429.9 L256.6,440.5 M257.1,429.9 L257.7,440.5" stroke="#56709f" stroke-width="0.5"/></g><path d="M245.3,439.3 C246.1,431.7 247.3,430.8 248.9,431.7 C250,432.9 250.7,435.5 251.5,436.1 C252.3,435.5 253,432.9 254.1,431.7 C255.7,430.8 256.9,431.7 257.7,439.3 L256,439.3 C255.4,434.9 254.9,433.9 253.9,435.1 C253,436.1 252.3,438.6 251.5,438.9 C250.7,438.6 250,436.1 249.1,435.1 C248.1,433.9 247.6,434.9 247,439.3 Z" fill="none" stroke="#2a4d8c" stroke-width="0.3"/></g>
<path d="M208,517.9 L208.9,514.3 L210.7,518.2 L212.1,518.5 L213.3,517.2 L214.6,519.6 L215.8,520.3 L218.7,517.6 L217.9,522.1 L218.9,523.1 L219.3,524.4 L220.4,525.4 L222.4,525.2 L221.5,527.9 L221.8,529.3 L224.6,529.5 L222.1,532 L221.8,533.4 L222.1,534.8 L221.5,536.1 L222.8,537.3 L220.4,538.6 L219.3,539.5 L219.2,541.2 L217.9,541.9 L218.8,543.9 L215.8,543.7 L214.6,544.4 L214.9,546.6 L212.1,545.5 L210.6,545.3 L209.4,546 L208.8,548.3 L206.6,546 L205.3,545.8 L204,545.3 L202.6,545 L201,546.7 L200.2,543.7 L199,542.9 L198.2,541.8 L197,541 L196.3,539.8 L194.4,540.2 L195,537.4 L194.3,536.2 L194.7,534.6 L194.1,533.4 L194.3,532 L194.2,530.6 L194.7,529.3 L194.9,528 L195.5,526.8 L195.6,525.4 L194,523.6 L197.1,523.1 L198.1,522.1 L196.7,519.5 L200.2,520.3 L201.4,519.6 L200.7,516.6 L203.9,518.5 L205.3,518.2 L205.3,513.5 L208,517.9Z" fill="#fff" stroke="#4a4870" stroke-width="0.4"/>
<path d="M222.3,532.8 L222.3,533.7 L222.1,534.6 L222.4,535.6 L221.5,536.3 L221.3,537.2 L220.6,537.9 L220.4,538.8 L221,540.2 L219.3,540.2 L219,541.1 L219.1,542.4 L217.4,542 L217.6,543.6 L216.8,544.1 L216.3,545 L215.3,545.3 L214,544.7 L213.6,546 L212.9,547.1 L212.1,547.8 L211.1,548.2 L209.8,546.4 L208.9,545.9 L208,546.6 L207,547.4 L205.9,548.7 L205.4,545.4 L204.6,545.4 L203.2,546.8 L202.8,545.2 L201.6,545.7 L201.2,544.5 L199.9,544.8 L199.2,544.1 L198.3,543.7 L198,542.6 L198.1,541.3 L196,541.9 L196.8,540.1 L194.6,540.5 L195.1,539.1 L193.6,538.7 L194.4,537.3 L194.7,536.3 L193.9,535.5 L193.6,534.7 L193.7,533.7 L193.7,532.8 L194.6,530.6 L193,531.3 L193.4,532 L194.6,532.4 L194.9,533 L194.4,533.8 L194.3,534.6 L196,534.7 L196.1,535.4 L196.2,536.1 L197.2,536.4 L196.7,537.6 L197.6,537.9 L198,538.6 L199.2,538.6 L199.9,539.1 L201.2,538.8 L201.8,539.5 L202.7,539.6 L203.5,539.9 L204.6,539.4 L205.1,540.9 L206.3,539.8 L207.1,540.4 L208,541.2 L208.9,540.5 L210,541 L210.6,539.9 L211.6,540.1 L212.4,539.8 L213.2,539.4 L214.1,539.3 L215,539.1 L216.3,539.3 L217.3,539.1 L216.7,537.5 L218.3,537.8 L218.7,537.2 L219.1,536.5 L218.9,535.7 L220,535.4 L220.4,534.9 L220.9,534.3 L221.7,533.9 L221.5,533.1 L221.6,532.5 L221.7,531.9 L223.5,531.3 L222.1,530.6Z" fill="#14104a"/>
<ellipse cx="208" cy="530.3" rx="13.9" ry="9.9" fill="#fff" stroke="#c4c4cc" stroke-width="0.4"/>
<ellipse cx="208" cy="530.3" rx="12" ry="8.3" fill="#f3f3f5" stroke="#d0d0d8" stroke-width="0.3"/>
<ellipse cx="208" cy="528.5" rx="8.4" ry="6.8" fill="#eef2f6" stroke="#14104a" stroke-width="0.7"/>
<g transform="rotate(-35 208 528.5)"><clipPath id="dn4"><path d="M201.8,532.3 C202.6,524.7 203.8,523.8 205.4,524.7 C206.5,525.9 207.2,528.5 208,529.1 C208.8,528.5 209.5,525.9 210.6,524.7 C212.2,523.8 213.4,524.7 214.2,532.3 L212.5,532.3 C211.9,527.9 211.4,526.9 210.4,528.1 C209.5,529.1 208.8,531.6 208,531.9 C207.2,531.6 206.5,529.1 205.6,528.1 C204.6,526.9 204.1,527.9 203.5,532.3 Z"/></clipPath><path d="M201.8,532.3 C202.6,524.7 203.8,523.8 205.4,524.7 C206.5,525.9 207.2,528.5 208,529.1 C208.8,528.5 209.5,525.9 210.6,524.7 C212.2,523.8 213.4,524.7 214.2,532.3 L212.5,532.3 C211.9,527.9 211.4,526.9 210.4,528.1 C209.5,529.1 208.8,531.6 208,531.9 C207.2,531.6 206.5,529.1 205.6,528.1 C204.6,526.9 204.1,527.9 203.5,532.3 Z" fill="#b5dcef"/><g clip-path="url(#dn4)"><path d="M202.4,522.9 L203,533.5 M203.5,522.9 L204.1,533.5 M204.6,522.9 L205.2,533.5 M205.7,522.9 L206.3,533.5 M206.9,522.9 L207.5,533.5 M208,522.9 L208.6,533.5 M209.1,522.9 L209.7,533.5 M210.3,522.9 L210.9,533.5 M211.4,522.9 L212,533.5 M212.5,522.9 L213.1,533.5 M213.6,522.9 L214.2,533.5" stroke="#56709f" stroke-width="0.5"/></g><path d="M201.8,532.3 C202.6,524.7 203.8,523.8 205.4,524.7 C206.5,525.9 207.2,528.5 208,529.1 C208.8,528.5 209.5,525.9 210.6,524.7 C212.2,523.8 213.4,524.7 214.2,532.3 L212.5,532.3 C211.9,527.9 211.4,526.9 210.4,528.1 C209.5,529.1 208.8,531.6 208,531.9 C207.2,531.6 206.5,529.1 205.6,528.1 C204.6,526.9 204.1,527.9 203.5,532.3 Z" fill="none" stroke="#2a4d8c" stroke-width="0.3"/></g>
<path d="M297,536.9 L297.9,533.2 L299.7,537.2 L301,537.9 L302.4,538 L303.9,536.4 L304.8,539.3 L305.6,540.5 L306.7,541.3 L307.9,542.1 L310.4,541.1 L309.4,544.4 L309.5,545.8 L310.5,546.9 L312.4,547.1 L311,549.6 L311.3,551 L311.2,552.4 L311,553.8 L310.5,555.1 L312.4,556.5 L309.4,557.6 L308.7,558.8 L307.7,559.8 L306.8,560.8 L305.9,561.9 L306.8,564.2 L303.6,563.4 L302.4,564.1 L301.1,564.6 L299.7,564.8 L299.4,567.1 L297,565.1 L295.6,565 L294.7,566.7 L292.9,564.5 L291.6,564 L290.1,565.5 L289.2,562.7 L288.4,561.5 L287.3,560.7 L286.1,559.9 L284.3,560.4 L284.6,557.6 L284,556.4 L281.7,556.5 L283.2,553.7 L282.9,552.4 L283.5,551 L283,549.6 L280.6,548.6 L283.5,546.9 L284.4,545.8 L284.6,544.4 L282.1,542.1 L286.1,542.1 L287.3,541.3 L288.2,540.3 L289.4,539.7 L290.4,538.6 L291.8,538.3 L292.9,537.5 L294.3,537.2 L294.5,534.4 L297,536.9Z" fill="#fff" stroke="#4a4870" stroke-width="0.4"/>
<path d="M311.3,551.8 L311.4,552.7 L311,553.6 L311.3,554.6 L311.5,555.6 L310.4,556.2 L309.6,556.9 L310.4,558.3 L308.8,558.5 L309.4,560 L308.1,560.2 L308.1,561.4 L306.4,561 L306.6,562.6 L305.2,562.3 L304.6,563 L304.4,564.5 L302.8,563.4 L303.2,566.6 L301.8,565.8 L300.7,565.5 L299.6,564.7 L298.9,565.7 L297.9,564.9 L297,565.8 L296.1,564.9 L295.1,566.3 L294.1,566.4 L293.1,566.3 L292.4,565.1 L291.7,564.5 L289.9,566.1 L288.9,565.7 L289,563.6 L288.2,563.2 L287.7,562.3 L287.7,561 L287,560.4 L284.9,560.9 L283.7,560.6 L283.9,559.2 L284,558.1 L283.5,557.3 L283.9,556.2 L283,555.5 L282.9,554.5 L283,553.6 L282.8,552.7 L282.7,551.8 L283.3,549.6 L283.3,550.2 L283.2,550.9 L282.8,551.6 L282.3,552.4 L283.2,552.9 L283.9,553.4 L285.3,553.6 L285.3,554.3 L284.9,555.2 L285.9,555.5 L285.7,556.5 L286.3,557.1 L288,556.8 L288.6,557.3 L289.4,557.5 L289.7,558.4 L291.2,557.9 L291.8,558.4 L292.2,559.5 L293.4,558.9 L294,560.1 L295.2,559.2 L296,560 L297,559.4 L297.9,558.8 L298.9,559.5 L299.6,558.8 L300.9,559.8 L301.7,559.3 L302.4,558.8 L303.7,559.1 L304.1,558.2 L305.4,558.5 L305.9,557.7 L305.8,556.6 L306.7,556.4 L308.3,556.5 L307.5,555.2 L309.7,555.6 L308.4,554.2 L310.3,554.2 L310.4,553.5 L310.3,552.8 L311,552.2 L311.2,551.6 L310.9,550.9 L310.8,550.2 L310.3,549.6Z" fill="#14104a"/>
<ellipse cx="297" cy="549.3" rx="13.9" ry="9.9" fill="#fff" stroke="#c4c4cc" stroke-width="0.4"/>
<ellipse cx="297" cy="549.3" rx="12" ry="8.3" fill="#f3f3f5" stroke="#d0d0d8" stroke-width="0.3"/>
<ellipse cx="297" cy="547.5" rx="8.4" ry="6.8" fill="#eef2f6" stroke="#14104a" stroke-width="0.7"/>
<g transform="rotate(-35 297 547.5)"><clipPath id="dn5"><path d="M290.8,551.3 C291.6,543.7 292.8,542.8 294.4,543.7 C295.5,544.9 296.2,547.5 297,548.1 C297.8,547.5 298.5,544.9 299.6,543.7 C301.2,542.8 302.4,543.7 303.2,551.3 L301.5,551.3 C300.9,546.9 300.4,545.9 299.4,547.1 C298.5,548.1 297.8,550.6 297,550.9 C296.2,550.6 295.5,548.1 294.6,547.1 C293.6,545.9 293.1,546.9 292.5,551.3 Z"/></clipPath><path d="M290.8,551.3 C291.6,543.7 292.8,542.8 294.4,543.7 C295.5,544.9 296.2,547.5 297,548.1 C297.8,547.5 298.5,544.9 299.6,543.7 C301.2,542.8 302.4,543.7 303.2,551.3 L301.5,551.3 C300.9,546.9 300.4,545.9 299.4,547.1 C298.5,548.1 297.8,550.6 297,550.9 C296.2,550.6 295.5,548.1 294.6,547.1 C293.6,545.9 293.1,546.9 292.5,551.3 Z" fill="#b5dcef"/><g clip-path="url(#dn5)"><path d="M291.4,541.9 L292,552.5 M292.5,541.9 L293.1,552.5 M293.6,541.9 L294.2,552.5 M294.7,541.9 L295.3,552.5 M295.9,541.9 L296.5,552.5 M297,541.9 L297.6,552.5 M298.1,541.9 L298.7,552.5 M299.3,541.9 L299.9,552.5 M300.4,541.9 L301,552.5 M301.5,541.9 L302.1,552.5 M302.6,541.9 L303.2,552.5" stroke="#56709f" stroke-width="0.5"/></g><path d="M290.8,551.3 C291.6,543.7 292.8,542.8 294.4,543.7 C295.5,544.9 296.2,547.5 297,548.1 C297.8,547.5 298.5,544.9 299.6,543.7 C301.2,542.8 302.4,543.7 303.2,551.3 L301.5,551.3 C300.9,546.9 300.4,545.9 299.4,547.1 C298.5,548.1 297.8,550.6 297,550.9 C296.2,550.6 295.5,548.1 294.6,547.1 C293.6,545.9 293.1,546.9 292.5,551.3 Z" fill="none" stroke="#2a4d8c" stroke-width="0.3"/></g>
<path d="M405,452.4 L405.7,449.4 L407.2,452.7 L408.2,453.2 L409.3,453.3 L411.1,450.8 L411.2,454.3 L412.1,455 L414.3,453.3 L413.6,456.5 L414,457.6 L414.8,458.3 L417.5,457.7 L415.7,460.4 L415.9,461.4 L418.1,461.7 L416.2,463.6 L416.1,464.7 L417.7,465.5 L415.7,466.8 L415.3,467.9 L416.6,469.1 L414.3,469.8 L413.6,470.7 L414.2,472 L412.1,472.2 L411.1,472.8 L410.2,473.3 L409.4,474.1 L408.1,473.9 L407.2,474.6 L406.1,474.7 L405.6,476.1 L403.9,474.7 L402.9,474.2 L401.8,474 L400.8,473.9 L399.7,473.4 L398.3,474.7 L397.9,472.2 L397.1,471.5 L395.8,472 L395.7,469.8 L395.2,468.9 L393.4,469.1 L394.3,466.8 L394,465.8 L394,464.7 L394,463.6 L394.3,462.5 L394.3,461.5 L394,460.3 L394.7,459.3 L393.6,458.2 L395.7,457.4 L396.7,456.8 L396.9,455.5 L397.9,455 L397.2,453 L399.7,453.8 L400.8,453.5 L401.8,452.9 L401.9,451.1 L403.9,452.5Z" fill="#fff" stroke="#4a4870" stroke-width="0.4"/>
<path d="M416.4,464.2 L416.4,465 L416.1,465.7 L416.3,466.4 L416.5,467.3 L415.2,467.6 L416.3,468.8 L416.3,469.8 L415.3,470.1 L415,470.8 L414.4,471.3 L412.9,471 L413.7,472.8 L412.8,473.1 L411.5,472.5 L410.9,472.9 L410.5,473.7 L409.8,473.9 L409.5,475 L409.1,476.3 L408.3,476.4 L407.3,475.7 L406.5,475.5 L405.7,475.3 L405,474.6 L404.2,476.8 L403.5,475.8 L402.9,474.9 L402.1,474.8 L401.2,475.4 L400.6,474.7 L399.9,474.4 L399.4,473.7 L398.8,473.4 L398.5,472.6 L397.6,472.6 L396.7,472.5 L396.8,471.3 L396.3,470.8 L395,470.8 L395.9,469.4 L394.6,469.3 L394.4,468.5 L394,467.9 L394.2,467.1 L393.6,466.5 L393.6,465.7 L393.6,465 L393.6,464.2 L394.4,462.5 L393.1,463.1 L393.2,463.6 L393.9,464 L393.4,464.7 L395.1,464.8 L395,465.4 L395.2,465.8 L395.4,466.4 L396.1,466.6 L396.7,466.9 L396.8,467.5 L396.5,468.4 L397,468.9 L397.9,469 L398.8,469 L399.6,469 L399.7,470.1 L400.7,469.8 L401.3,470.2 L402.3,469.4 L402.9,469.8 L403.5,470.7 L404.2,470.7 L405,470.8 L405.7,470.4 L406.4,470.2 L407.2,470.3 L408.1,470.5 L408.5,469.7 L409.3,469.8 L409.8,469.2 L410.8,469.6 L410.7,468.5 L412,468.9 L412.9,468.8 L412.3,467.6 L413.6,467.8 L414.1,467.4 L414.9,467.1 L414.9,466.5 L414.7,465.8 L415.3,465.5 L416.5,465.2 L416.7,464.7 L415.5,463.9 L415.5,463.4 L415.6,463 L415.5,462.5Z" fill="#14104a"/>
<ellipse cx="405" cy="462.2" rx="11" ry="7.8" fill="#fff" stroke="#c4c4cc" stroke-width="0.4"/>
<ellipse cx="405" cy="462.2" rx="9.5" ry="6.6" fill="#f3f3f5" stroke="#d0d0d8" stroke-width="0.3"/>
<ellipse cx="405" cy="460.8" rx="6.7" ry="5.4" fill="#eef2f6" stroke="#14104a" stroke-width="0.6"/>
<g transform="rotate(-35 405 460.8)"><clipPath id="dn6"><path d="M400.1,463.9 C400.7,457.8 401.7,457.1 402.9,457.8 C403.8,458.8 404.4,460.8 405,461.3 C405.6,460.8 406.2,458.8 407.1,457.8 C408.3,457.1 409.3,457.8 409.9,463.9 L408.6,463.9 C408.1,460.4 407.7,459.5 406.9,460.5 C406.2,461.3 405.6,463.3 405,463.5 C404.4,463.3 403.8,461.3 403.1,460.5 C402.3,459.5 401.9,460.4 401.4,463.9 Z"/></clipPath><path d="M400.1,463.9 C400.7,457.8 401.7,457.1 402.9,457.8 C403.8,458.8 404.4,460.8 405,461.3 C405.6,460.8 406.2,458.8 407.1,457.8 C408.3,457.1 409.3,457.8 409.9,463.9 L408.6,463.9 C408.1,460.4 407.7,459.5 406.9,460.5 C406.2,461.3 405.6,463.3 405,463.5 C404.4,463.3 403.8,461.3 403.1,460.5 C402.3,459.5 401.9,460.4 401.4,463.9 Z" fill="#b5dcef"/><g clip-path="url(#dn6)"><path d="M400.5,456.4 L401,464.8 M401.4,456.4 L401.9,464.8 M402.3,456.4 L402.8,464.8 M403.2,456.4 L403.7,464.8 M404.1,456.4 L404.6,464.8 M405,456.4 L405.5,464.8 M405.9,456.4 L406.4,464.8 M406.8,456.4 L407.3,464.8 M407.7,456.4 L408.2,464.8 M408.6,456.4 L409.1,464.8 M409.5,456.4 L410,464.8" stroke="#56709f" stroke-width="0.5"/></g><path d="M400.1,463.9 C400.7,457.8 401.7,457.1 402.9,457.8 C403.8,458.8 404.4,460.8 405,461.3 C405.6,460.8 406.2,458.8 407.1,457.8 C408.3,457.1 409.3,457.8 409.9,463.9 L408.6,463.9 C408.1,460.4 407.7,459.5 406.9,460.5 C406.2,461.3 405.6,463.3 405,463.5 C404.4,463.3 403.8,461.3 403.1,460.5 C402.3,459.5 401.9,460.4 401.4,463.9 Z" fill="none" stroke="#2a4d8c" stroke-width="0.3"/></g>
<path d="M392,529.3 L393.1,529.2 L394.1,529.5 L395.3,529.2 L396.4,529.4 L397.3,530.2 L398.8,528.7 L399.1,531.4 L399.9,532.1 L401.6,531.3 L401.3,533.8 L402.1,534.6 L402,535.8 L402.6,536.8 L402.9,537.8 L404.8,538.1 L403.2,540 L403.1,541.1 L404.7,541.9 L402.7,543.2 L402.6,544.4 L401.7,545.2 L401.6,546.4 L400.9,547.3 L399.9,547.9 L400.4,549.3 L398.2,549.3 L397.3,549.9 L396.2,550.1 L395.3,550.9 L394.2,550.9 L393.8,552.4 L392,551.2 L390.9,551.3 L389.9,550.8 L388.9,550.4 L387.8,550.1 L386.7,549.8 L385.5,550.8 L384.9,548.6 L384.1,547.9 L382.3,548.8 L382.7,546.2 L382.5,545.1 L381.5,544.3 L381.7,543.1 L381.2,542.1 L380.6,541.1 L381.1,540 L380.9,538.9 L378.9,538.1 L381.3,536.8 L381.7,535.7 L380.1,534.4 L382.7,533.8 L383.7,533.2 L384.1,532.1 L382.5,529.6 L385.8,530.7 L386.7,530.2 L385.9,527.1 L388.8,529.3 L389.9,529.3 L390.9,528.9 L391.4,527.6 L393.1,528.9Z" fill="#fff" stroke="#4a4870" stroke-width="0.4"/>
<path d="M403.4,540.6 L403.2,541.3 L403.4,542.1 L403.2,542.8 L403.7,543.7 L403.1,544.3 L402.5,544.9 L402.3,545.6 L403,546.9 L401.8,547.1 L401.5,547.9 L400.8,548.3 L400.4,548.9 L399.8,549.5 L399,549.6 L398,549.5 L397.4,549.9 L397.2,551.1 L396.1,550.3 L396,552.4 L394.7,550.5 L394,550.7 L393.5,551.5 L392.7,551.4 L392,552.3 L391.3,551.4 L390.6,551.2 L389.8,551.5 L389,551.5 L388.6,550.4 L387.8,550.6 L387.1,550.4 L386.1,550.8 L385.3,550.6 L384.1,550.8 L384.6,549 L384.3,548.2 L383.1,548.3 L383.1,547.4 L381.5,547.5 L381,546.9 L382,545.5 L381.1,545.1 L381,544.3 L381.1,543.5 L380.6,542.9 L380.8,542.1 L380.6,541.4 L380.6,540.6 L380.4,538.9 L379.8,539.5 L381.6,539.8 L380.9,540.4 L380.8,541 L381.6,541.4 L382.1,541.7 L381.6,542.5 L382.3,542.8 L383,543.1 L383.7,543.3 L382.9,544.5 L384.3,544.3 L385.1,544.4 L385.5,544.8 L386,545.1 L386.1,546.1 L387.3,545.5 L387.9,545.8 L388.6,545.8 L389.1,546.4 L389.9,546.2 L390.6,546.4 L391.2,547 L392,547.3 L392.8,547.1 L393.3,546 L394.1,546.4 L395.1,546.9 L395.3,545.7 L396.1,545.8 L396.9,545.9 L397.5,545.5 L398.5,545.7 L399.1,545.3 L399.4,544.8 L399.6,544.2 L400.1,543.8 L400.6,543.5 L400.7,542.9 L402,542.9 L401.6,542.2 L403.1,542.1 L403,541.5 L402.1,540.8 L403.1,540.4 L403.5,540 L402.5,539.4 L403.4,538.9Z" fill="#14104a"/>
<ellipse cx="392" cy="538.6" rx="11" ry="7.8" fill="#fff" stroke="#c4c4cc" stroke-width="0.4"/>
<ellipse cx="392" cy="538.6" rx="9.5" ry="6.6" fill="#f3f3f5" stroke="#d0d0d8" stroke-width="0.3"/>
<ellipse cx="392" cy="537.2" rx="6.7" ry="5.4" fill="#eef2f6" stroke="#14104a" stroke-width="0.6"/>
<g transform="rotate(-35 392 537.2)"><clipPath id="dn7"><path d="M387.1,540.3 C387.7,534.2 388.7,533.5 389.9,534.2 C390.8,535.2 391.4,537.2 392,537.7 C392.6,537.2 393.2,535.2 394.1,534.2 C395.3,533.5 396.3,534.2 396.9,540.3 L395.6,540.3 C395.1,536.8 394.7,535.9 393.9,536.9 C393.2,537.7 392.6,539.7 392,539.9 C391.4,539.7 390.8,537.7 390.1,536.9 C389.3,535.9 388.9,536.8 388.4,540.3 Z"/></clipPath><path d="M387.1,540.3 C387.7,534.2 388.7,533.5 389.9,534.2 C390.8,535.2 391.4,537.2 392,537.7 C392.6,537.2 393.2,535.2 394.1,534.2 C395.3,533.5 396.3,534.2 396.9,540.3 L395.6,540.3 C395.1,536.8 394.7,535.9 393.9,536.9 C393.2,537.7 392.6,539.7 392,539.9 C391.4,539.7 390.8,537.7 390.1,536.9 C389.3,535.9 388.9,536.8 388.4,540.3 Z" fill="#b5dcef"/><g clip-path="url(#dn7)"><path d="M387.5,532.8 L388,541.2 M388.4,532.8 L388.9,541.2 M389.3,532.8 L389.8,541.2 M390.2,532.8 L390.7,541.2 M391.1,532.8 L391.6,541.2 M392,532.8 L392.5,541.2 M392.9,532.8 L393.4,541.2 M393.8,532.8 L394.3,541.2 M394.7,532.8 L395.2,541.2 M395.6,532.8 L396.1,541.2 M396.5,532.8 L397,541.2" stroke="#56709f" stroke-width="0.5"/></g><path d="M387.1,540.3 C387.7,534.2 388.7,533.5 389.9,534.2 C390.8,535.2 391.4,537.2 392,537.7 C392.6,537.2 393.2,535.2 394.1,534.2 C395.3,533.5 396.3,534.2 396.9,540.3 L395.6,540.3 C395.1,536.8 394.7,535.9 393.9,536.9 C393.2,537.7 392.6,539.7 392,539.9 C391.4,539.7 390.8,537.7 390.1,536.9 C389.3,535.9 388.9,536.8 388.4,540.3 Z" fill="none" stroke="#2a4d8c" stroke-width="0.3"/></g>
<path d="M458,507.8 L458.7,505.4 L460.2,508.1 L461.2,508.3 L462.5,506.4 L463.3,509.2 L464.2,509.7 L466.2,507.9 L465.9,511.1 L466.6,511.9 L468.5,511.2 L467.8,513.7 L468.1,514.8 L469,515.7 L468.9,516.8 L471.2,517 L469.2,519 L468.7,520.1 L469,521.2 L468.7,522.2 L469.8,523.2 L467.8,524.3 L467.3,525.2 L468.4,526.7 L465.9,526.9 L465.1,527.7 L464.1,528.1 L463.3,528.8 L463.6,530.8 L461.2,529.7 L460.2,529.9 L459.1,530.1 L458.6,531.5 L456.9,530.1 L455.9,529.5 L454.7,529.8 L453.7,529.3 L452.4,530.8 L451.8,528.3 L451,527.6 L450.2,526.8 L449.4,526 L448.7,525.2 L447.3,525.4 L447.7,523.3 L447.5,522.2 L447,521.2 L447.1,520.1 L446.5,519 L446.8,517.9 L447.3,516.9 L447.3,515.8 L446.2,514.8 L448.2,513.7 L448.7,512.8 L447.2,511 L450.1,511.1 L450.9,510.4 L449.7,507.9 L452.7,509.2 L453.9,509 L454.8,508.6 L455.8,508.1 L456.2,506.7 L458,507.8Z" fill="#fff" stroke="#4a4870" stroke-width="0.4"/>
<path d="M469.4,519.6 L469.5,520.4 L469.3,521.1 L469.5,521.9 L468.7,522.4 L468.4,523.1 L468.7,524 L468.3,524.7 L467.7,525.2 L468.1,526.3 L467.2,526.6 L466.6,527.1 L466.4,528 L465.6,528.2 L464.9,528.5 L464.7,529.5 L463.6,529.1 L463,529.6 L462.8,531.1 L461.4,529.6 L461.3,531.8 L460.3,530.9 L459.4,529.8 L458.7,530.7 L458,530.3 L457.3,530.3 L456.5,531 L455.7,531.1 L455,530.7 L453.9,531.6 L453.7,529.9 L453,529.6 L452.7,528.7 L452.2,528.2 L451.7,527.8 L450.4,528.1 L449.8,527.8 L449.5,526.9 L448.8,526.6 L448.1,526.2 L447.7,525.5 L447.1,525 L447.1,524.1 L446.9,523.3 L446.5,522.7 L446.9,521.8 L446.9,521.1 L446.6,520.4 L446.6,519.6 L446,517.9 L445.9,518.5 L446.4,519 L447,519.4 L446.7,520 L446.7,520.6 L447.3,521 L448.3,521.2 L448.6,521.7 L448.8,522.2 L448.7,522.9 L449.5,523.1 L450,523.5 L450.2,524.1 L451.6,523.7 L451.6,524.6 L452.6,524.5 L453,525 L453.5,525.5 L454.6,525 L454.9,526 L456,525 L456.5,525.7 L457.3,525.8 L458,525.4 L458.7,525.8 L459.5,525.6 L460.2,525.5 L461,525.7 L461.3,524.7 L462.2,525 L463.2,525.3 L463.3,524.3 L464.6,524.8 L464.5,523.8 L465.6,524 L465.5,523.1 L466.4,523 L466.8,522.6 L466.7,521.9 L468.1,522 L468.1,521.4 L468.8,521 L468.8,520.5 L469,520 L469.2,519.4 L468.9,518.9 L470.1,518.5 L468.6,517.9Z" fill="#14104a"/>
<ellipse cx="458" cy="517.6" rx="11" ry="7.8" fill="#fff" stroke="#c4c4cc" stroke-width="0.4"/>
<ellipse cx="458" cy="517.6" rx="9.5" ry="6.6" fill="#f3f3f5" stroke="#d0d0d8" stroke-width="0.3"/>
<ellipse cx="458" cy="516.2" rx="6.7" ry="5.4" fill="#eef2f6" stroke="#14104a" stroke-width="0.6"/>
<g transform="rotate(-35 458 516.2)"><clipPath id="dn8"><path d="M453.1,519.3 C453.7,513.2 454.7,512.5 455.9,513.2 C456.8,514.2 457.4,516.2 458,516.7 C458.6,516.2 459.2,514.2 460.1,513.2 C461.3,512.5 462.3,513.2 462.9,519.3 L461.6,519.3 C461.1,515.8 460.7,514.9 459.9,515.9 C459.2,516.7 458.6,518.7 458,518.9 C457.4,518.7 456.8,516.7 456.1,515.9 C455.3,514.9 454.9,515.8 454.4,519.3 Z"/></clipPath><path d="M453.1,519.3 C453.7,513.2 454.7,512.5 455.9,513.2 C456.8,514.2 457.4,516.2 458,516.7 C458.6,516.2 459.2,514.2 460.1,513.2 C461.3,512.5 462.3,513.2 462.9,519.3 L461.6,519.3 C461.1,515.8 460.7,514.9 459.9,515.9 C459.2,516.7 458.6,518.7 458,518.9 C457.4,518.7 456.8,516.7 456.1,515.9 C455.3,514.9 454.9,515.8 454.4,519.3 Z" fill="#b5dcef"/><g clip-path="url(#dn8)"><path d="M453.5,511.8 L454,520.2 M454.4,511.8 L454.9,520.2 M455.3,511.8 L455.8,520.2 M456.2,511.8 L456.7,520.2 M457.1,511.8 L457.6,520.2 M458,511.8 L458.5,520.2 M458.9,511.8 L459.4,520.2 M459.8,511.8 L460.3,520.2 M460.7,511.8 L461.2,520.2 M461.6,511.8 L462.1,520.2 M462.5,511.8 L463,520.2" stroke="#56709f" stroke-width="0.5"/></g><path d="M453.1,519.3 C453.7,513.2 454.7,512.5 455.9,513.2 C456.8,514.2 457.4,516.2 458,516.7 C458.6,516.2 459.2,514.2 460.1,513.2 C461.3,512.5 462.3,513.2 462.9,519.3 L461.6,519.3 C461.1,515.8 460.7,514.9 459.9,515.9 C459.2,516.7 458.6,518.7 458,518.9 C457.4,518.7 456.8,516.7 456.1,515.9 C455.3,514.9 454.9,515.8 454.4,519.3 Z" fill="none" stroke="#2a4d8c" stroke-width="0.3"/></g>
<path d="M179.6,105 L203,105" fill="none" stroke="#14104a" stroke-width="1.1" stroke-dasharray="1.8 1.2"/><path d="M202.5,102 L208,105 L202.5,108 Z" fill="#14104a"/>
</svg></body></html>
